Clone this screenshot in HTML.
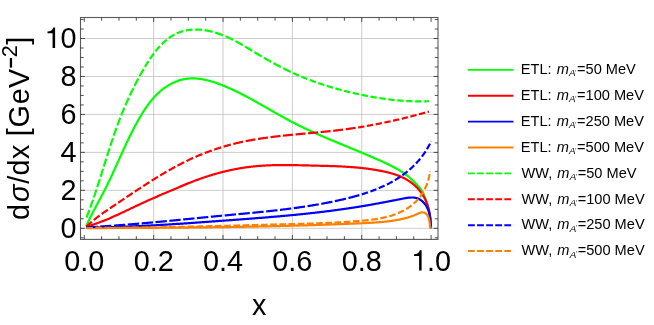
<!DOCTYPE html>
<html><head><meta charset="utf-8"><title>plot</title>
<style>html,body{margin:0;padding:0;background:#fff;}body{width:654px;height:325px;overflow:hidden;font-family:"Liberation Sans",sans-serif;}</style>
</head><body>
<svg width="654" height="325" viewBox="0 0 654 325" style="display:block">
<rect width="654" height="325" fill="#fff"/>
<defs><filter id="gs" x="0" y="0" width="100%" height="100%" filterUnits="userSpaceOnUse" color-interpolation-filters="sRGB"><feColorMatrix type="saturate" values="0"/></filter></defs>
<path d="M153.66,17.5 V239.4 M223.02,17.5 V239.4 M292.38,17.5 V239.4 M361.74,17.5 V239.4 M80.5,228.30 H438.0 M80.5,190.34 H438.0 M80.5,152.38 H438.0 M80.5,114.42 H438.0 M80.5,76.46 H438.0 M80.5,38.50 H438.0" stroke="#bcbcbc" stroke-width="0.75" fill="none"/>
<clipPath id="c"><rect x="80.5" y="17.5" width="357.5" height="221.9"/></clipPath>
<g clip-path="url(#c)" fill="none" stroke-width="2.2" stroke-linejoin="round">
<path d="M86.21,226.21 L86.55,225.46 L86.88,224.71 L87.22,223.97 L87.56,223.22 L87.90,222.48 L88.25,221.74 L88.60,221.00 L88.95,220.27 L89.30,219.53 L89.66,218.80 L90.02,218.07 L90.38,217.34 L90.74,216.61 L91.11,215.88 L91.47,215.16 L91.84,214.43 L92.21,213.71 L92.58,212.99 L92.96,212.27 L93.33,211.55 L93.71,210.83 L94.08,210.11 L94.46,209.39 L94.84,208.68 L95.22,207.96 L95.60,207.25 L95.98,206.53 L96.36,205.82 L96.75,205.10 L97.13,204.39 L97.51,203.68 L97.90,202.96 L98.28,202.25 L98.66,201.54 L99.05,200.83 L99.43,200.11 L99.81,199.40 L100.20,198.69 L100.58,197.97 L100.96,197.26 L101.34,196.54 L101.72,195.83 L102.10,195.11 L102.48,194.40 L102.85,193.68 L103.23,192.96 L103.60,192.24 L103.98,191.53 L104.35,190.81 L104.72,190.08 L105.08,189.36 L105.45,188.64 L105.82,187.91 L106.18,187.19 L106.54,186.46 L106.90,185.73 L107.26,185.01 L107.62,184.28 L107.97,183.55 L108.33,182.82 L108.68,182.08 L109.03,181.35 L109.38,180.62 L109.73,179.88 L110.08,179.15 L110.43,178.41 L110.78,177.68 L111.12,176.94 L111.47,176.20 L111.81,175.47 L112.15,174.73 L112.50,173.99 L112.84,173.25 L113.18,172.51 L113.52,171.77 L113.86,171.03 L114.20,170.29 L114.54,169.54 L114.87,168.80 L115.21,168.06 L115.55,167.32 L115.88,166.57 L116.22,165.83 L116.56,165.09 L116.89,164.34 L117.23,163.60 L117.56,162.86 L117.90,162.11 L118.23,161.37 L118.57,160.62 L118.90,159.88 L119.24,159.14 L119.57,158.39 L119.91,157.65 L120.24,156.90 L120.58,156.16 L120.92,155.42 L121.25,154.67 L121.59,153.93 L121.93,153.19 L122.26,152.44 L122.60,151.70 L122.94,150.96 L123.28,150.22 L123.62,149.48 L123.96,148.73 L124.30,147.99 L124.64,147.25 L124.98,146.51 L125.33,145.77 L125.67,145.04 L126.02,144.30 L126.36,143.56 L126.71,142.82 L127.06,142.09 L127.41,141.35 L127.76,140.61 L128.11,139.88 L128.46,139.15 L128.81,138.41 L129.17,137.68 L129.52,136.95 L129.88,136.22 L130.24,135.49 L130.60,134.76 L130.96,134.03 L131.33,133.31 L131.69,132.58 L132.06,131.85 L132.43,131.13 L132.80,130.41 L133.17,129.68 L133.54,128.96 L133.92,128.24 L134.30,127.53 L134.67,126.81 L135.06,126.09 L135.44,125.38 L135.82,124.66 L136.21,123.95 L136.60,123.24 L136.99,122.53 L137.39,121.82 L137.78,121.12 L138.18,120.41 L138.58,119.71 L138.99,119.00 L139.39,118.30 L139.80,117.60 L140.21,116.90 L140.62,116.21 L141.04,115.51 L141.46,114.82 L141.88,114.13 L142.30,113.44 L142.73,112.75 L143.16,112.07 L143.59,111.38 L144.03,110.70 L144.47,110.02 L144.91,109.35 L145.36,108.67 L145.81,108.01 L146.27,107.34 L146.73,106.67 L147.19,106.01 L147.66,105.36 L148.14,104.70 L148.61,104.06 L149.10,103.41 L149.59,102.77 L150.08,102.13 L150.58,101.50 L151.09,100.87 L151.60,100.25 L152.11,99.63 L152.63,99.02 L153.16,98.41 L153.70,97.80 L154.24,97.20 L154.78,96.61 L155.34,96.02 L155.90,95.44 L156.47,94.87 L157.04,94.30 L157.62,93.73 L158.21,93.18 L158.81,92.62 L159.41,92.08 L160.03,91.54 L160.65,91.01 L161.27,90.49 L161.91,89.97 L162.55,89.46 L163.21,88.96 L163.87,88.47 L164.54,87.98 L165.22,87.50 L165.90,87.03 L166.60,86.56 L167.31,86.11 L168.02,85.66 L168.74,85.23 L169.47,84.80 L170.21,84.39 L170.95,83.98 L171.70,83.59 L172.45,83.21 L173.21,82.84 L173.98,82.48 L174.75,82.13 L175.52,81.80 L176.29,81.49 L177.07,81.18 L177.85,80.90 L178.64,80.62 L179.42,80.37 L180.21,80.13 L181.00,79.90 L181.79,79.70 L182.57,79.51 L183.36,79.33 L184.15,79.17 L184.95,79.03 L185.74,78.90 L186.53,78.79 L187.32,78.69 L188.11,78.60 L188.91,78.53 L189.70,78.48 L190.50,78.43 L191.29,78.40 L192.08,78.39 L192.88,78.38 L193.67,78.39 L194.47,78.41 L195.26,78.45 L196.06,78.49 L196.85,78.55 L197.64,78.62 L198.44,78.70 L199.23,78.79 L200.02,78.89 L200.82,79.01 L201.61,79.13 L202.40,79.26 L203.19,79.40 L203.98,79.56 L204.77,79.72 L205.56,79.89 L206.35,80.06 L207.14,80.25 L207.93,80.45 L208.71,80.65 L209.50,80.86 L210.28,81.08 L211.07,81.30 L211.85,81.53 L212.63,81.77 L213.41,82.02 L214.19,82.27 L214.97,82.53 L215.75,82.79 L216.52,83.06 L217.29,83.33 L218.07,83.61 L218.84,83.89 L219.61,84.18 L220.38,84.47 L221.14,84.77 L221.91,85.07 L222.67,85.37 L223.43,85.68 L224.19,85.98 L224.95,86.30 L225.70,86.61 L226.46,86.93 L227.21,87.25 L227.96,87.57 L228.71,87.90 L229.46,88.23 L230.20,88.56 L230.95,88.90 L231.69,89.24 L232.43,89.58 L233.17,89.92 L233.91,90.26 L234.65,90.61 L235.38,90.96 L236.12,91.31 L236.85,91.67 L237.58,92.02 L238.31,92.38 L239.04,92.74 L239.77,93.10 L240.50,93.47 L241.23,93.83 L241.95,94.20 L242.68,94.57 L243.40,94.95 L244.12,95.32 L244.84,95.69 L245.56,96.07 L246.28,96.45 L247.00,96.83 L247.72,97.21 L248.43,97.60 L249.15,97.98 L249.86,98.37 L250.58,98.75 L251.29,99.14 L252.00,99.53 L252.72,99.92 L253.43,100.32 L254.14,100.71 L254.85,101.10 L255.56,101.50 L256.27,101.89 L256.98,102.29 L257.68,102.69 L258.39,103.09 L259.10,103.49 L259.81,103.89 L260.51,104.29 L261.22,104.69 L261.93,105.09 L262.63,105.49 L263.34,105.89 L264.04,106.29 L264.75,106.70 L265.45,107.10 L266.16,107.50 L266.86,107.91 L267.56,108.31 L268.27,108.71 L268.97,109.12 L269.68,109.52 L270.38,109.92 L271.09,110.33 L271.79,110.73 L272.49,111.13 L273.20,111.54 L273.90,111.94 L274.61,112.34 L275.31,112.74 L276.02,113.14 L276.73,113.54 L277.43,113.94 L278.14,114.34 L278.85,114.74 L279.55,115.14 L280.26,115.53 L280.97,115.93 L281.68,116.32 L282.39,116.72 L283.10,117.11 L283.81,117.50 L284.52,117.89 L285.23,118.28 L285.94,118.67 L286.65,119.06 L287.37,119.45 L288.08,119.83 L288.79,120.21 L289.51,120.59 L290.23,120.97 L290.94,121.35 L291.66,121.73 L292.38,122.11 L293.10,122.48 L293.82,122.85 L294.54,123.22 L295.26,123.59 L295.99,123.96 L296.71,124.32 L297.44,124.69 L298.16,125.05 L298.89,125.41 L299.62,125.77 L300.35,126.13 L301.08,126.48 L301.81,126.84 L302.54,127.19 L303.27,127.54 L304.00,127.90 L304.73,128.24 L305.47,128.59 L306.20,128.94 L306.94,129.28 L307.67,129.63 L308.41,129.97 L309.15,130.31 L309.88,130.65 L310.62,130.99 L311.36,131.33 L312.10,131.67 L312.84,132.00 L313.58,132.34 L314.32,132.67 L315.06,133.01 L315.81,133.34 L316.55,133.67 L317.29,134.00 L318.04,134.33 L318.78,134.66 L319.52,134.98 L320.27,135.31 L321.02,135.64 L321.76,135.96 L322.51,136.28 L323.25,136.61 L324.00,136.93 L324.75,137.25 L325.50,137.57 L326.25,137.89 L326.99,138.21 L327.74,138.53 L328.49,138.85 L329.24,139.17 L329.99,139.48 L330.74,139.80 L331.49,140.12 L332.24,140.43 L333.00,140.75 L333.75,141.06 L334.50,141.37 L335.25,141.69 L336.00,142.00 L336.75,142.31 L337.51,142.63 L338.26,142.94 L339.01,143.25 L339.76,143.56 L340.52,143.87 L341.27,144.19 L342.02,144.50 L342.78,144.81 L343.53,145.12 L344.28,145.43 L345.04,145.74 L345.79,146.05 L346.54,146.36 L347.30,146.67 L348.05,146.98 L348.80,147.29 L349.56,147.60 L350.31,147.91 L351.06,148.22 L351.81,148.53 L352.57,148.84 L353.32,149.15 L354.07,149.46 L354.83,149.77 L355.58,150.08 L356.33,150.40 L357.08,150.71 L357.83,151.02 L358.59,151.33 L359.34,151.64 L360.09,151.96 L360.84,152.27 L361.59,152.58 L362.34,152.90 L363.09,153.21 L363.84,153.53 L364.59,153.84 L365.34,154.16 L366.09,154.47 L366.84,154.79 L367.59,155.11 L368.34,155.43 L369.09,155.75 L369.83,156.06 L370.58,156.38 L371.33,156.71 L372.07,157.03 L372.82,157.35 L373.56,157.67 L374.31,158.00 L375.05,158.32 L375.80,158.64 L376.54,158.97 L377.28,159.30 L378.03,159.63 L378.77,159.95 L379.51,160.28 L380.25,160.61 L380.99,160.95 L381.73,161.28 L382.47,161.61 L383.21,161.95 L383.94,162.29 L384.68,162.63 L385.41,162.97 L386.15,163.31 L386.88,163.66 L387.61,164.00 L388.34,164.36 L389.07,164.71 L389.79,165.07 L390.51,165.43 L391.23,165.79 L391.95,166.16 L392.67,166.53 L393.38,166.90 L394.10,167.28 L394.81,167.67 L395.51,168.06 L396.22,168.45 L396.92,168.84 L397.61,169.25 L398.31,169.65 L399.00,170.07 L399.69,170.48 L400.37,170.91 L401.06,171.34 L401.73,171.77 L402.41,172.21 L403.08,172.66 L403.74,173.12 L404.41,173.58 L405.06,174.04 L405.72,174.52 L406.37,175.00 L407.01,175.49 L407.65,175.99 L408.29,176.49 L408.92,177.00 L409.55,177.52 L410.17,178.05 L410.78,178.59 L411.40,179.13 L412.00,179.69 L412.60,180.25 L413.20,180.82 L413.79,181.40 L414.37,181.99 L414.95,182.58 L415.52,183.18 L416.08,183.78 L416.64,184.39 L417.20,185.01 L417.74,185.62 L418.28,186.24 L418.81,186.87 L419.34,187.50 L419.85,188.13 L420.34,188.77 L420.83,189.42 L421.29,190.08 L421.74,190.74 L422.17,191.42 L422.58,192.11 L422.97,192.81 L423.33,193.52 L423.67,194.25 L424.00,194.98 L424.31,195.73 L424.61,196.48 L424.89,197.23 L425.17,197.99 L425.44,198.76 L425.71,199.52 L425.98,200.29 L426.23,201.06 L426.49,201.84 L426.74,202.61 L426.98,203.39 L427.22,204.17 L427.45,204.95 L427.68,205.73 L427.90,206.52 L428.12,207.31 L428.32,208.10 L428.53,208.89 L428.72,209.68 L428.91,210.47 L429.09,211.27 L429.27,212.06 L429.44,212.86 L429.60,213.66 L429.75,214.46 L429.89,215.26 L430.03,216.06 L430.16,216.87 L430.28,217.67 L430.39,218.48 L430.49,219.28 L430.59,220.09 L430.67,220.90 L430.75,221.71 L430.82,222.52 L430.87,223.33 L430.92,224.14 L430.96,224.95 L430.98,225.76 L431.00,226.57 L431.01,227.38 L431.00,228.20" stroke="#00ff00"/>
<path d="M86.09,226.71 L86.72,226.54 L87.35,226.36 L87.98,226.18 L88.61,226.00 L89.24,225.81 L89.87,225.63 L90.49,225.43 L91.11,225.24 L91.74,225.04 L92.36,224.85 L92.98,224.64 L93.60,224.44 L94.22,224.23 L94.84,224.03 L95.46,223.81 L96.07,223.60 L96.69,223.39 L97.30,223.17 L97.91,222.95 L98.53,222.73 L99.14,222.50 L99.75,222.27 L100.36,222.05 L100.97,221.82 L101.58,221.58 L102.18,221.35 L102.79,221.11 L103.40,220.87 L104.00,220.64 L104.61,220.39 L105.21,220.15 L105.81,219.90 L106.42,219.66 L107.02,219.41 L107.62,219.16 L108.22,218.91 L108.82,218.66 L109.42,218.40 L110.02,218.15 L110.62,217.89 L111.21,217.63 L111.81,217.37 L112.41,217.11 L113.00,216.85 L113.60,216.58 L114.19,216.32 L114.79,216.05 L115.38,215.78 L115.98,215.52 L116.57,215.25 L117.16,214.98 L117.76,214.71 L118.35,214.44 L118.94,214.16 L119.53,213.89 L120.12,213.62 L120.72,213.34 L121.31,213.07 L121.90,212.79 L122.49,212.51 L123.08,212.24 L123.67,211.96 L124.26,211.68 L124.85,211.40 L125.44,211.12 L126.03,210.84 L126.62,210.56 L127.21,210.28 L127.79,210.00 L128.38,209.72 L128.97,209.44 L129.56,209.16 L130.15,208.88 L130.74,208.60 L131.33,208.32 L131.92,208.03 L132.51,207.75 L133.10,207.47 L133.69,207.19 L134.28,206.91 L134.87,206.63 L135.45,206.35 L136.04,206.07 L136.63,205.79 L137.23,205.51 L137.82,205.23 L138.41,204.95 L139.00,204.68 L139.59,204.40 L140.18,204.12 L140.77,203.85 L141.36,203.57 L141.96,203.30 L142.55,203.02 L143.14,202.75 L143.74,202.48 L144.33,202.20 L144.92,201.93 L145.52,201.66 L146.11,201.39 L146.71,201.12 L147.30,200.85 L147.90,200.59 L148.49,200.32 L149.09,200.05 L149.69,199.79 L150.28,199.52 L150.88,199.26 L151.48,198.99 L152.08,198.73 L152.67,198.47 L153.27,198.20 L153.87,197.94 L154.47,197.68 L155.07,197.42 L155.67,197.16 L156.26,196.90 L156.86,196.64 L157.46,196.38 L158.06,196.12 L158.66,195.86 L159.26,195.60 L159.86,195.34 L160.46,195.09 L161.06,194.83 L161.66,194.57 L162.26,194.31 L162.86,194.06 L163.46,193.80 L164.06,193.54 L164.66,193.29 L165.26,193.03 L165.86,192.77 L166.46,192.52 L167.06,192.26 L167.66,192.01 L168.26,191.75 L168.87,191.49 L169.47,191.24 L170.07,190.98 L170.67,190.73 L171.27,190.47 L171.87,190.22 L172.47,189.96 L173.07,189.70 L173.67,189.45 L174.27,189.19 L174.87,188.93 L175.47,188.68 L176.06,188.42 L176.66,188.17 L177.26,187.91 L177.86,187.65 L178.46,187.40 L179.06,187.14 L179.66,186.89 L180.26,186.63 L180.86,186.38 L181.47,186.13 L182.07,185.87 L182.67,185.62 L183.27,185.37 L183.87,185.12 L184.47,184.87 L185.07,184.62 L185.68,184.37 L186.28,184.12 L186.88,183.88 L187.49,183.63 L188.09,183.39 L188.70,183.14 L189.30,182.90 L189.91,182.66 L190.52,182.42 L191.12,182.18 L191.73,181.94 L192.34,181.70 L192.95,181.47 L193.56,181.24 L194.17,181.00 L194.78,180.77 L195.39,180.54 L196.00,180.31 L196.61,180.09 L197.23,179.86 L197.84,179.64 L198.45,179.42 L199.07,179.19 L199.68,178.98 L200.30,178.76 L200.92,178.54 L201.53,178.32 L202.15,178.11 L202.77,177.90 L203.39,177.69 L204.01,177.48 L204.63,177.27 L205.25,177.06 L205.87,176.86 L206.49,176.66 L207.11,176.46 L207.73,176.26 L208.36,176.06 L208.98,175.86 L209.61,175.66 L210.23,175.47 L210.85,175.28 L211.48,175.09 L212.11,174.90 L212.73,174.71 L213.36,174.53 L213.99,174.34 L214.61,174.16 L215.24,173.98 L215.87,173.80 L216.50,173.62 L217.13,173.45 L217.76,173.27 L218.39,173.10 L219.02,172.93 L219.65,172.76 L220.29,172.59 L220.92,172.43 L221.55,172.26 L222.18,172.10 L222.82,171.94 L223.45,171.78 L224.09,171.62 L224.72,171.47 L225.36,171.31 L225.99,171.16 L226.63,171.01 L227.26,170.86 L227.90,170.72 L228.54,170.57 L229.17,170.43 L229.81,170.29 L230.45,170.15 L231.09,170.01 L231.73,169.88 L232.37,169.75 L233.01,169.61 L233.65,169.48 L234.29,169.36 L234.93,169.23 L235.57,169.11 L236.21,168.98 L236.85,168.86 L237.49,168.75 L238.13,168.63 L238.78,168.51 L239.42,168.40 L240.06,168.29 L240.70,168.18 L241.35,168.08 L241.99,167.97 L242.64,167.87 L243.28,167.77 L243.92,167.67 L244.57,167.57 L245.21,167.48 L245.86,167.39 L246.51,167.29 L247.15,167.21 L247.80,167.12 L248.44,167.04 L249.09,166.95 L249.74,166.87 L250.38,166.79 L251.03,166.72 L251.68,166.64 L252.33,166.57 L252.97,166.50 L253.62,166.43 L254.27,166.37 L254.92,166.30 L255.57,166.24 L256.22,166.18 L256.86,166.12 L257.51,166.07 L258.16,166.01 L258.81,165.96 L259.46,165.91 L260.11,165.86 L260.76,165.81 L261.41,165.76 L262.06,165.72 L262.71,165.68 L263.36,165.63 L264.01,165.59 L264.66,165.56 L265.32,165.52 L265.97,165.49 L266.62,165.45 L267.27,165.42 L267.92,165.39 L268.57,165.36 L269.22,165.33 L269.88,165.31 L270.53,165.28 L271.18,165.26 L271.83,165.24 L272.49,165.22 L273.14,165.20 L273.79,165.18 L274.44,165.16 L275.10,165.15 L275.75,165.13 L276.40,165.12 L277.06,165.11 L277.71,165.10 L278.36,165.09 L279.02,165.08 L279.67,165.07 L280.32,165.07 L280.98,165.06 L281.63,165.06 L282.28,165.05 L282.94,165.05 L283.59,165.05 L284.24,165.05 L284.90,165.05 L285.55,165.05 L286.21,165.05 L286.86,165.05 L287.52,165.06 L288.17,165.06 L288.82,165.07 L289.48,165.07 L290.13,165.08 L290.79,165.09 L291.44,165.09 L292.09,165.10 L292.75,165.11 L293.40,165.12 L294.06,165.13 L294.71,165.14 L295.37,165.15 L296.02,165.17 L296.68,165.18 L297.33,165.19 L297.98,165.20 L298.64,165.22 L299.29,165.23 L299.95,165.25 L300.60,165.26 L301.26,165.28 L301.91,165.29 L302.56,165.31 L303.22,165.32 L303.87,165.34 L304.53,165.36 L305.18,165.37 L305.83,165.39 L306.49,165.41 L307.14,165.42 L307.80,165.44 L308.45,165.46 L309.10,165.47 L309.76,165.49 L310.41,165.51 L311.06,165.53 L311.72,165.54 L312.37,165.56 L313.02,165.58 L313.68,165.59 L314.33,165.61 L314.98,165.63 L315.64,165.64 L316.29,165.66 L316.94,165.68 L317.59,165.69 L318.25,165.71 L318.90,165.73 L319.55,165.74 L320.20,165.76 L320.86,165.78 L321.51,165.79 L322.16,165.81 L322.81,165.83 L323.46,165.84 L324.12,165.86 L324.77,165.88 L325.42,165.90 L326.07,165.91 L326.72,165.93 L327.37,165.95 L328.02,165.97 L328.68,165.99 L329.33,166.01 L329.98,166.03 L330.63,166.05 L331.28,166.07 L331.93,166.09 L332.58,166.12 L333.23,166.14 L333.88,166.16 L334.53,166.19 L335.18,166.21 L335.84,166.23 L336.49,166.26 L337.14,166.29 L337.79,166.31 L338.44,166.34 L339.09,166.37 L339.74,166.40 L340.39,166.43 L341.04,166.46 L341.69,166.49 L342.34,166.52 L342.99,166.56 L343.64,166.59 L344.29,166.63 L344.94,166.66 L345.59,166.70 L346.23,166.74 L346.88,166.78 L347.53,166.82 L348.18,166.86 L348.83,166.90 L349.48,166.94 L350.13,166.99 L350.78,167.03 L351.43,167.08 L352.08,167.13 L352.73,167.18 L353.38,167.23 L354.02,167.28 L354.67,167.34 L355.32,167.39 L355.97,167.45 L356.62,167.50 L357.27,167.56 L357.92,167.62 L358.57,167.68 L359.21,167.75 L359.86,167.81 L360.51,167.88 L361.16,167.95 L361.81,168.01 L362.46,168.09 L363.10,168.16 L363.75,168.23 L364.40,168.31 L365.05,168.38 L365.70,168.46 L366.35,168.54 L366.99,168.63 L367.64,168.71 L368.29,168.80 L368.94,168.89 L369.59,168.98 L370.23,169.07 L370.88,169.16 L371.53,169.26 L372.18,169.35 L372.82,169.45 L373.47,169.56 L374.12,169.66 L374.77,169.76 L375.42,169.87 L376.06,169.98 L376.71,170.09 L377.36,170.21 L378.01,170.32 L378.65,170.44 L379.30,170.56 L379.95,170.68 L380.60,170.81 L381.24,170.94 L381.89,171.07 L382.54,171.20 L383.18,171.33 L383.83,171.47 L384.48,171.61 L385.12,171.76 L385.77,171.90 L386.41,172.05 L387.05,172.21 L387.69,172.36 L388.33,172.52 L388.97,172.69 L389.61,172.85 L390.24,173.03 L390.88,173.20 L391.51,173.38 L392.14,173.56 L392.77,173.75 L393.40,173.94 L394.02,174.14 L394.65,174.34 L395.27,174.55 L395.88,174.76 L396.50,174.97 L397.11,175.19 L397.73,175.42 L398.33,175.65 L398.94,175.89 L399.54,176.13 L400.14,176.38 L400.74,176.63 L401.33,176.89 L401.92,177.15 L402.51,177.42 L403.09,177.70 L403.67,177.98 L404.25,178.27 L404.82,178.57 L405.39,178.87 L405.95,179.18 L406.51,179.49 L407.07,179.81 L407.62,180.14 L408.17,180.48 L408.71,180.82 L409.25,181.17 L409.79,181.53 L410.32,181.90 L410.84,182.27 L411.36,182.65 L411.87,183.04 L412.38,183.43 L412.89,183.84 L413.39,184.25 L413.88,184.67 L414.37,185.09 L414.85,185.53 L415.33,185.97 L415.80,186.42 L416.27,186.87 L416.72,187.34 L417.18,187.81 L417.62,188.28 L418.06,188.76 L418.50,189.25 L418.92,189.75 L419.34,190.25 L419.75,190.76 L420.16,191.27 L420.56,191.79 L420.95,192.31 L421.33,192.84 L421.71,193.38 L422.08,193.92 L422.44,194.46 L422.79,195.01 L423.14,195.57 L423.47,196.13 L423.80,196.69 L424.12,197.26 L424.43,197.84 L424.73,198.42 L425.03,199.00 L425.31,199.58 L425.59,200.17 L425.86,200.77 L426.12,201.37 L426.37,201.97 L426.61,202.57 L426.85,203.18 L427.07,203.79 L427.29,204.40 L427.51,205.02 L427.71,205.64 L427.91,206.26 L428.09,206.89 L428.28,207.52 L428.45,208.15 L428.62,208.78 L428.78,209.41 L428.93,210.05 L429.08,210.69 L429.22,211.33 L429.36,211.97 L429.48,212.61 L429.61,213.26 L429.72,213.90 L429.83,214.55 L429.94,215.20 L430.03,215.85 L430.13,216.50 L430.21,217.15 L430.30,217.80 L430.37,218.45 L430.45,219.10 L430.51,219.75 L430.57,220.41 L430.63,221.06 L430.68,221.71 L430.73,222.36 L430.78,223.01 L430.81,223.67 L430.85,224.32 L430.88,224.97 L430.91,225.61 L430.93,226.26 L430.95,226.91 L430.97,227.55 L430.98,228.20" stroke="#ff0000"/>
<path d="M86.17,227.48 L86.79,227.48 L87.40,227.48 L88.02,227.48 L88.64,227.47 L89.26,227.47 L89.87,227.46 L90.49,227.46 L91.11,227.45 L91.72,227.45 L92.34,227.44 L92.96,227.44 L93.57,227.43 L94.19,227.42 L94.81,227.42 L95.42,227.41 L96.04,227.40 L96.66,227.39 L97.27,227.39 L97.89,227.38 L98.51,227.37 L99.12,227.36 L99.74,227.35 L100.35,227.34 L100.97,227.33 L101.59,227.32 L102.20,227.31 L102.82,227.29 L103.43,227.28 L104.05,227.27 L104.67,227.26 L105.28,227.24 L105.90,227.23 L106.51,227.22 L107.13,227.20 L107.74,227.19 L108.36,227.17 L108.97,227.16 L109.59,227.14 L110.20,227.13 L110.82,227.11 L111.43,227.10 L112.05,227.08 L112.66,227.06 L113.28,227.05 L113.89,227.03 L114.51,227.01 L115.12,226.99 L115.74,226.98 L116.35,226.96 L116.97,226.94 L117.58,226.92 L118.19,226.90 L118.81,226.88 L119.42,226.86 L120.04,226.84 L120.65,226.82 L121.27,226.80 L121.88,226.78 L122.49,226.76 L123.11,226.74 L123.72,226.71 L124.33,226.69 L124.95,226.67 L125.56,226.65 L126.18,226.62 L126.79,226.60 L127.40,226.58 L128.02,226.55 L128.63,226.53 L129.24,226.50 L129.86,226.48 L130.47,226.45 L131.08,226.43 L131.70,226.40 L132.31,226.38 L132.92,226.35 L133.54,226.33 L134.15,226.30 L134.76,226.27 L135.38,226.25 L135.99,226.22 L136.60,226.19 L137.22,226.16 L137.83,226.14 L138.44,226.11 L139.06,226.08 L139.67,226.05 L140.28,226.02 L140.89,225.99 L141.51,225.96 L142.12,225.94 L142.73,225.91 L143.34,225.88 L143.96,225.85 L144.57,225.82 L145.18,225.78 L145.80,225.75 L146.41,225.72 L147.02,225.69 L147.63,225.66 L148.25,225.63 L148.86,225.60 L149.47,225.56 L150.08,225.53 L150.70,225.50 L151.31,225.47 L151.92,225.43 L152.53,225.40 L153.14,225.37 L153.76,225.33 L154.37,225.30 L154.98,225.27 L155.59,225.23 L156.21,225.20 L156.82,225.16 L157.43,225.13 L158.04,225.10 L158.65,225.06 L159.27,225.03 L159.88,224.99 L160.49,224.95 L161.10,224.92 L161.71,224.88 L162.33,224.85 L162.94,224.81 L163.55,224.77 L164.16,224.74 L164.77,224.70 L165.39,224.66 L166.00,224.63 L166.61,224.59 L167.22,224.55 L167.83,224.52 L168.45,224.48 L169.06,224.44 L169.67,224.40 L170.28,224.36 L170.89,224.33 L171.50,224.29 L172.12,224.25 L172.73,224.21 L173.34,224.17 L173.95,224.13 L174.56,224.09 L175.18,224.05 L175.79,224.01 L176.40,223.97 L177.01,223.94 L177.62,223.90 L178.24,223.86 L178.85,223.82 L179.46,223.78 L180.07,223.73 L180.68,223.69 L181.29,223.65 L181.91,223.61 L182.52,223.57 L183.13,223.53 L183.74,223.49 L184.35,223.45 L184.97,223.41 L185.58,223.37 L186.19,223.33 L186.80,223.28 L187.41,223.24 L188.02,223.20 L188.64,223.16 L189.25,223.12 L189.86,223.07 L190.47,223.03 L191.08,222.99 L191.70,222.95 L192.31,222.91 L192.92,222.86 L193.53,222.82 L194.14,222.78 L194.76,222.73 L195.37,222.69 L195.98,222.65 L196.59,222.61 L197.20,222.56 L197.82,222.52 L198.43,222.48 L199.04,222.43 L199.65,222.39 L200.26,222.35 L200.88,222.30 L201.49,222.26 L202.10,222.22 L202.71,222.17 L203.32,222.13 L203.94,222.08 L204.55,222.04 L205.16,222.00 L205.77,221.95 L206.39,221.91 L207.00,221.86 L207.61,221.82 L208.22,221.78 L208.84,221.73 L209.45,221.69 L210.06,221.64 L210.67,221.60 L211.29,221.55 L211.90,221.51 L212.51,221.46 L213.12,221.42 L213.74,221.38 L214.35,221.33 L214.96,221.29 L215.57,221.24 L216.19,221.20 L216.80,221.15 L217.41,221.11 L218.02,221.06 L218.64,221.02 L219.25,220.97 L219.86,220.93 L220.48,220.88 L221.09,220.84 L221.70,220.79 L222.32,220.75 L222.93,220.70 L223.54,220.66 L224.15,220.61 L224.77,220.57 L225.38,220.52 L225.99,220.48 L226.61,220.43 L227.22,220.39 L227.83,220.34 L228.45,220.30 L229.06,220.25 L229.67,220.21 L230.29,220.16 L230.90,220.12 L231.52,220.07 L232.13,220.03 L232.74,219.98 L233.36,219.94 L233.97,219.89 L234.58,219.85 L235.20,219.80 L235.81,219.76 L236.42,219.71 L237.04,219.67 L237.65,219.62 L238.27,219.57 L238.88,219.53 L239.49,219.48 L240.11,219.44 L240.72,219.39 L241.33,219.35 L241.95,219.30 L242.56,219.25 L243.18,219.21 L243.79,219.16 L244.40,219.11 L245.02,219.07 L245.63,219.02 L246.25,218.98 L246.86,218.93 L247.47,218.88 L248.09,218.84 L248.70,218.79 L249.32,218.74 L249.93,218.69 L250.54,218.65 L251.16,218.60 L251.77,218.55 L252.39,218.50 L253.00,218.46 L253.61,218.41 L254.23,218.36 L254.84,218.31 L255.46,218.27 L256.07,218.22 L256.68,218.17 L257.30,218.12 L257.91,218.07 L258.53,218.02 L259.14,217.97 L259.75,217.93 L260.37,217.88 L260.98,217.83 L261.59,217.78 L262.21,217.73 L262.82,217.68 L263.44,217.63 L264.05,217.58 L264.66,217.53 L265.28,217.48 L265.89,217.43 L266.51,217.38 L267.12,217.33 L267.73,217.28 L268.35,217.23 L268.96,217.17 L269.57,217.12 L270.19,217.07 L270.80,217.02 L271.41,216.97 L272.03,216.92 L272.64,216.86 L273.25,216.81 L273.87,216.76 L274.48,216.71 L275.10,216.65 L275.71,216.60 L276.32,216.55 L276.94,216.49 L277.55,216.44 L278.16,216.39 L278.77,216.33 L279.39,216.28 L280.00,216.22 L280.61,216.17 L281.23,216.12 L281.84,216.06 L282.45,216.01 L283.07,215.95 L283.68,215.89 L284.29,215.84 L284.90,215.78 L285.52,215.73 L286.13,215.67 L286.74,215.61 L287.36,215.56 L287.97,215.50 L288.58,215.44 L289.19,215.38 L289.81,215.33 L290.42,215.27 L291.03,215.21 L291.64,215.15 L292.26,215.09 L292.87,215.03 L293.48,214.98 L294.09,214.92 L294.70,214.86 L295.32,214.80 L295.93,214.74 L296.54,214.68 L297.15,214.61 L297.76,214.55 L298.37,214.49 L298.99,214.43 L299.60,214.37 L300.21,214.31 L300.82,214.25 L301.43,214.18 L302.04,214.12 L302.65,214.06 L303.27,213.99 L303.88,213.93 L304.49,213.87 L305.10,213.80 L305.71,213.74 L306.32,213.67 L306.93,213.61 L307.54,213.54 L308.15,213.48 L308.76,213.41 L309.37,213.34 L309.98,213.28 L310.59,213.21 L311.20,213.14 L311.82,213.08 L312.43,213.01 L313.04,212.94 L313.65,212.87 L314.26,212.80 L314.86,212.73 L315.47,212.67 L316.08,212.60 L316.69,212.53 L317.30,212.46 L317.91,212.38 L318.52,212.31 L319.13,212.24 L319.74,212.17 L320.35,212.10 L320.96,212.03 L321.57,211.95 L322.18,211.88 L322.78,211.81 L323.39,211.73 L324.00,211.66 L324.61,211.59 L325.22,211.51 L325.83,211.44 L326.43,211.36 L327.04,211.28 L327.65,211.21 L328.26,211.13 L328.87,211.06 L329.47,210.98 L330.08,210.90 L330.69,210.82 L331.30,210.74 L331.90,210.67 L332.51,210.59 L333.12,210.51 L333.72,210.43 L334.33,210.35 L334.94,210.27 L335.54,210.19 L336.15,210.10 L336.76,210.02 L337.36,209.94 L337.97,209.86 L338.58,209.78 L339.18,209.69 L339.79,209.61 L340.39,209.52 L341.00,209.44 L341.60,209.35 L342.21,209.27 L342.81,209.18 L343.42,209.10 L344.02,209.01 L344.63,208.92 L345.23,208.84 L345.84,208.75 L346.44,208.66 L347.05,208.57 L347.65,208.48 L348.26,208.39 L348.86,208.30 L349.46,208.21 L350.07,208.12 L350.67,208.03 L351.27,207.94 L351.88,207.85 L352.48,207.75 L353.08,207.66 L353.69,207.57 L354.29,207.47 L354.89,207.38 L355.50,207.28 L356.10,207.19 L356.70,207.09 L357.30,207.00 L357.90,206.90 L358.51,206.80 L359.11,206.71 L359.71,206.61 L360.31,206.51 L360.91,206.41 L361.51,206.31 L362.12,206.21 L362.72,206.11 L363.32,206.01 L363.92,205.91 L364.52,205.81 L365.12,205.70 L365.72,205.60 L366.32,205.50 L366.92,205.39 L367.52,205.29 L368.12,205.19 L368.72,205.08 L369.32,204.98 L369.92,204.87 L370.52,204.76 L371.12,204.66 L371.73,204.55 L372.33,204.44 L372.93,204.33 L373.53,204.23 L374.13,204.12 L374.73,204.01 L375.33,203.90 L375.94,203.79 L376.54,203.68 L377.14,203.57 L377.74,203.46 L378.35,203.35 L378.95,203.23 L379.55,203.12 L380.16,203.01 L380.76,202.90 L381.37,202.78 L381.97,202.67 L382.58,202.56 L383.18,202.44 L383.79,202.33 L384.40,202.21 L385.00,202.10 L385.61,201.98 L386.22,201.87 L386.83,201.75 L387.44,201.63 L388.05,201.52 L388.66,201.40 L389.27,201.28 L389.88,201.17 L390.49,201.05 L391.10,200.93 L391.72,200.81 L392.33,200.69 L392.94,200.57 L393.56,200.45 L394.17,200.33 L394.79,200.21 L395.41,200.09 L396.02,199.97 L396.64,199.85 L397.26,199.73 L397.88,199.61 L398.50,199.49 L399.12,199.37 L399.75,199.25 L400.37,199.12 L400.99,199.00 L401.62,198.88 L402.24,198.76 L402.87,198.63 L403.50,198.51 L404.12,198.40 L404.75,198.28 L405.38,198.17 L406.00,198.06 L406.62,197.96 L407.25,197.87 L407.87,197.79 L408.48,197.71 L409.10,197.65 L409.71,197.59 L410.32,197.55 L410.93,197.52 L411.53,197.50 L412.13,197.50 L412.72,197.51 L413.31,197.54 L413.90,197.59 L414.48,197.66 L415.05,197.74 L415.62,197.85 L416.18,197.97 L416.74,198.12 L417.28,198.29 L417.82,198.49 L418.36,198.71 L418.88,198.95 L419.40,199.22 L419.91,199.51 L420.41,199.82 L420.90,200.16 L421.38,200.51 L421.85,200.88 L422.31,201.27 L422.76,201.68 L423.20,202.11 L423.63,202.55 L424.04,203.00 L424.44,203.48 L424.83,203.96 L425.21,204.46 L425.57,204.97 L425.92,205.49 L426.26,206.02 L426.58,206.57 L426.88,207.12 L427.17,207.68 L427.45,208.25 L427.71,208.82 L427.95,209.40 L428.18,209.99 L428.39,210.58 L428.59,211.18 L428.78,211.78 L428.95,212.38 L429.12,212.99 L429.27,213.61 L429.41,214.22 L429.54,214.84 L429.66,215.46 L429.77,216.08 L429.87,216.71 L429.97,217.33 L430.06,217.96 L430.14,218.58 L430.21,219.20 L430.28,219.83 L430.35,220.45 L430.41,221.07 L430.46,221.68 L430.51,222.30 L430.56,222.91 L430.61,223.52 L430.66,224.12 L430.70,224.72 L430.75,225.31 L430.79,225.90 L430.84,226.48 L430.89,227.06 L430.94,227.63 L430.99,228.19" stroke="#0000ff"/>
<path d="M86.19,228.10 L86.79,228.10 L87.38,228.09 L87.98,228.09 L88.58,228.09 L89.18,228.09 L89.77,228.09 L90.37,228.08 L90.97,228.08 L91.56,228.08 L92.16,228.08 L92.76,228.08 L93.36,228.07 L93.95,228.07 L94.55,228.07 L95.15,228.07 L95.74,228.07 L96.34,228.06 L96.94,228.06 L97.53,228.06 L98.13,228.06 L98.73,228.06 L99.32,228.05 L99.92,228.05 L100.52,228.05 L101.12,228.05 L101.71,228.05 L102.31,228.04 L102.91,228.04 L103.50,228.04 L104.10,228.04 L104.70,228.03 L105.29,228.03 L105.89,228.03 L106.49,228.03 L107.08,228.03 L107.68,228.02 L108.28,228.02 L108.87,228.02 L109.47,228.02 L110.07,228.02 L110.66,228.01 L111.26,228.01 L111.86,228.01 L112.45,228.01 L113.05,228.00 L113.65,228.00 L114.24,228.00 L114.84,228.00 L115.44,227.99 L116.03,227.99 L116.63,227.99 L117.23,227.99 L117.82,227.99 L118.42,227.98 L119.02,227.98 L119.61,227.98 L120.21,227.98 L120.80,227.97 L121.40,227.97 L122.00,227.97 L122.59,227.97 L123.19,227.96 L123.79,227.96 L124.38,227.96 L124.98,227.96 L125.58,227.95 L126.17,227.95 L126.77,227.95 L127.37,227.95 L127.96,227.94 L128.56,227.94 L129.15,227.94 L129.75,227.93 L130.35,227.93 L130.94,227.93 L131.54,227.93 L132.14,227.92 L132.73,227.92 L133.33,227.92 L133.93,227.91 L134.52,227.91 L135.12,227.91 L135.71,227.91 L136.31,227.90 L136.91,227.90 L137.50,227.90 L138.10,227.89 L138.70,227.89 L139.29,227.89 L139.89,227.88 L140.48,227.88 L141.08,227.88 L141.68,227.88 L142.27,227.87 L142.87,227.87 L143.47,227.87 L144.06,227.86 L144.66,227.86 L145.25,227.86 L145.85,227.85 L146.45,227.85 L147.04,227.85 L147.64,227.84 L148.23,227.84 L148.83,227.84 L149.43,227.83 L150.02,227.83 L150.62,227.83 L151.21,227.82 L151.81,227.82 L152.41,227.81 L153.00,227.81 L153.60,227.81 L154.19,227.80 L154.79,227.80 L155.39,227.80 L155.98,227.79 L156.58,227.79 L157.18,227.78 L157.77,227.78 L158.37,227.78 L158.96,227.77 L159.56,227.77 L160.15,227.76 L160.75,227.76 L161.35,227.76 L161.94,227.75 L162.54,227.75 L163.13,227.74 L163.73,227.74 L164.33,227.74 L164.92,227.73 L165.52,227.73 L166.11,227.72 L166.71,227.72 L167.31,227.71 L167.90,227.71 L168.50,227.71 L169.09,227.70 L169.69,227.70 L170.29,227.69 L170.88,227.69 L171.48,227.68 L172.07,227.68 L172.67,227.67 L173.27,227.67 L173.86,227.66 L174.46,227.66 L175.05,227.65 L175.65,227.65 L176.24,227.64 L176.84,227.64 L177.44,227.63 L178.03,227.63 L178.63,227.62 L179.22,227.62 L179.82,227.61 L180.42,227.61 L181.01,227.60 L181.61,227.60 L182.20,227.59 L182.80,227.59 L183.39,227.58 L183.99,227.58 L184.59,227.57 L185.18,227.57 L185.78,227.56 L186.37,227.56 L186.97,227.55 L187.56,227.54 L188.16,227.54 L188.76,227.53 L189.35,227.53 L189.95,227.52 L190.54,227.52 L191.14,227.51 L191.73,227.50 L192.33,227.50 L192.93,227.49 L193.52,227.49 L194.12,227.48 L194.71,227.47 L195.31,227.47 L195.91,227.46 L196.50,227.45 L197.10,227.45 L197.69,227.44 L198.29,227.44 L198.88,227.43 L199.48,227.42 L200.08,227.42 L200.67,227.41 L201.27,227.40 L201.86,227.40 L202.46,227.39 L203.05,227.38 L203.65,227.38 L204.25,227.37 L204.84,227.36 L205.44,227.35 L206.03,227.35 L206.63,227.34 L207.22,227.33 L207.82,227.33 L208.41,227.32 L209.01,227.31 L209.61,227.30 L210.20,227.30 L210.80,227.29 L211.39,227.28 L211.99,227.28 L212.58,227.27 L213.18,227.26 L213.78,227.25 L214.37,227.24 L214.97,227.24 L215.56,227.23 L216.16,227.22 L216.75,227.21 L217.35,227.21 L217.95,227.20 L218.54,227.19 L219.14,227.18 L219.73,227.17 L220.33,227.16 L220.92,227.16 L221.52,227.15 L222.12,227.14 L222.71,227.13 L223.31,227.12 L223.90,227.11 L224.50,227.11 L225.09,227.10 L225.69,227.09 L226.29,227.08 L226.88,227.07 L227.48,227.06 L228.07,227.05 L228.67,227.04 L229.26,227.04 L229.86,227.03 L230.46,227.02 L231.05,227.01 L231.65,227.00 L232.24,226.99 L232.84,226.98 L233.43,226.97 L234.03,226.96 L234.63,226.95 L235.22,226.94 L235.82,226.93 L236.41,226.92 L237.01,226.91 L237.60,226.90 L238.20,226.89 L238.80,226.88 L239.39,226.87 L239.99,226.86 L240.58,226.85 L241.18,226.84 L241.77,226.83 L242.37,226.82 L242.97,226.81 L243.56,226.80 L244.16,226.79 L244.75,226.78 L245.35,226.77 L245.94,226.76 L246.54,226.75 L247.14,226.74 L247.73,226.73 L248.33,226.71 L248.92,226.70 L249.52,226.69 L250.11,226.68 L250.71,226.67 L251.31,226.66 L251.90,226.65 L252.50,226.64 L253.09,226.62 L253.69,226.61 L254.28,226.60 L254.88,226.59 L255.48,226.58 L256.07,226.57 L256.67,226.55 L257.26,226.54 L257.86,226.53 L258.45,226.52 L259.05,226.51 L259.65,226.49 L260.24,226.48 L260.84,226.47 L261.43,226.46 L262.03,226.44 L262.63,226.43 L263.22,226.42 L263.82,226.41 L264.41,226.39 L265.01,226.38 L265.60,226.37 L266.20,226.36 L266.80,226.34 L267.39,226.33 L267.99,226.32 L268.58,226.30 L269.18,226.29 L269.78,226.28 L270.37,226.26 L270.97,226.25 L271.56,226.24 L272.16,226.22 L272.76,226.21 L273.35,226.19 L273.95,226.18 L274.54,226.17 L275.14,226.15 L275.74,226.14 L276.33,226.12 L276.93,226.11 L277.52,226.10 L278.12,226.08 L278.72,226.07 L279.31,226.05 L279.91,226.04 L280.50,226.02 L281.10,226.01 L281.69,225.99 L282.29,225.98 L282.89,225.96 L283.48,225.95 L284.08,225.93 L284.68,225.92 L285.27,225.90 L285.87,225.89 L286.46,225.87 L287.06,225.86 L287.66,225.84 L288.25,225.83 L288.85,225.81 L289.44,225.79 L290.04,225.78 L290.64,225.76 L291.23,225.75 L291.83,225.73 L292.42,225.71 L293.02,225.70 L293.62,225.68 L294.21,225.66 L294.81,225.65 L295.40,225.63 L296.00,225.61 L296.60,225.60 L297.19,225.58 L297.79,225.56 L298.39,225.55 L298.98,225.53 L299.58,225.51 L300.17,225.49 L300.77,225.48 L301.37,225.46 L301.96,225.44 L302.56,225.42 L303.16,225.41 L303.75,225.39 L304.35,225.37 L304.94,225.35 L305.54,225.33 L306.14,225.32 L306.73,225.30 L307.33,225.28 L307.93,225.26 L308.52,225.24 L309.12,225.22 L309.71,225.21 L310.31,225.19 L310.91,225.17 L311.50,225.15 L312.10,225.13 L312.70,225.11 L313.29,225.09 L313.89,225.07 L314.49,225.05 L315.08,225.03 L315.68,225.01 L316.28,224.99 L316.87,224.98 L317.47,224.96 L318.06,224.94 L318.66,224.92 L319.26,224.90 L319.85,224.88 L320.45,224.85 L321.05,224.83 L321.64,224.81 L322.24,224.79 L322.84,224.77 L323.43,224.75 L324.03,224.73 L324.63,224.71 L325.22,224.69 L325.82,224.67 L326.42,224.65 L327.01,224.63 L327.61,224.60 L328.21,224.58 L328.80,224.56 L329.40,224.54 L330.00,224.52 L330.59,224.50 L331.19,224.47 L331.79,224.45 L332.38,224.43 L332.98,224.41 L333.58,224.39 L334.17,224.36 L334.77,224.34 L335.37,224.32 L335.96,224.30 L336.56,224.27 L337.16,224.25 L337.75,224.23 L338.35,224.20 L338.95,224.18 L339.54,224.16 L340.14,224.13 L340.74,224.11 L341.34,224.09 L341.93,224.06 L342.53,224.04 L343.13,224.02 L343.72,223.99 L344.32,223.97 L344.92,223.94 L345.51,223.92 L346.11,223.90 L346.71,223.87 L347.31,223.85 L347.90,223.82 L348.50,223.80 L349.10,223.77 L349.69,223.75 L350.29,223.72 L350.89,223.70 L351.48,223.67 L352.08,223.65 L352.68,223.62 L353.28,223.60 L353.87,223.57 L354.47,223.54 L355.07,223.52 L355.66,223.49 L356.26,223.47 L356.86,223.44 L357.46,223.41 L358.05,223.39 L358.65,223.36 L359.25,223.33 L359.85,223.31 L360.44,223.28 L361.04,223.25 L361.64,223.23 L362.23,223.20 L362.83,223.17 L363.43,223.14 L364.03,223.12 L364.62,223.09 L365.22,223.06 L365.82,223.03 L366.42,223.00 L367.01,222.97 L367.61,222.94 L368.21,222.91 L368.80,222.88 L369.40,222.85 L370.00,222.82 L370.59,222.79 L371.19,222.75 L371.79,222.72 L372.38,222.68 L372.98,222.65 L373.57,222.61 L374.17,222.57 L374.76,222.54 L375.36,222.50 L375.95,222.46 L376.55,222.41 L377.14,222.37 L377.74,222.33 L378.33,222.28 L378.92,222.24 L379.52,222.19 L380.11,222.14 L380.70,222.09 L381.30,222.04 L381.89,221.99 L382.48,221.93 L383.07,221.88 L383.66,221.82 L384.25,221.76 L384.84,221.70 L385.43,221.64 L386.02,221.58 L386.61,221.51 L387.20,221.44 L387.79,221.37 L388.37,221.30 L388.96,221.23 L389.55,221.16 L390.14,221.08 L390.72,221.00 L391.31,220.92 L391.89,220.84 L392.48,220.75 L393.06,220.66 L393.64,220.58 L394.23,220.48 L394.81,220.39 L395.39,220.29 L395.97,220.20 L396.55,220.10 L397.13,219.99 L397.71,219.89 L398.29,219.78 L398.87,219.67 L399.44,219.55 L400.02,219.44 L400.60,219.32 L401.17,219.20 L401.75,219.07 L402.32,218.95 L402.89,218.82 L403.47,218.68 L404.04,218.55 L404.61,218.41 L405.18,218.26 L405.75,218.12 L406.32,217.97 L406.89,217.81 L407.46,217.65 L408.03,217.48 L408.60,217.31 L409.17,217.13 L409.75,216.95 L410.32,216.76 L410.89,216.56 L411.46,216.36 L412.03,216.15 L412.61,215.94 L413.18,215.71 L413.76,215.48 L414.33,215.24 L414.91,215.00 L415.49,214.74 L416.07,214.48 L416.65,214.21 L417.23,213.95 L417.81,213.69 L418.39,213.44 L418.97,213.21 L419.55,213.00 L420.12,212.81 L420.70,212.65 L421.27,212.53 L421.84,212.45 L422.40,212.40 L422.96,212.41 L423.51,212.47 L424.04,212.59 L424.56,212.77 L425.06,213.00 L425.53,213.29 L425.99,213.62 L426.41,214.00 L426.82,214.41 L427.19,214.86 L427.53,215.34 L427.84,215.84 L428.11,216.37 L428.36,216.92 L428.57,217.48 L428.76,218.07 L428.93,218.66 L429.08,219.27 L429.21,219.88 L429.32,220.50 L429.42,221.13 L429.52,221.76 L429.61,222.39 L429.69,223.01 L429.77,223.64 L429.85,224.25 L429.94,224.86 L430.03,225.45 L430.14,226.04 L430.25,226.61 L430.38,227.15 L430.53,227.68 L430.70,228.19" stroke="#ff8000"/>
<path d="M86.51,217.62 L86.80,216.89 L87.09,216.15 L87.37,215.41 L87.66,214.67 L87.94,213.92 L88.23,213.18 L88.51,212.44 L88.79,211.70 L89.06,210.95 L89.34,210.21 L89.45,209.92 M90.33,207.52 L90.44,207.23 L90.71,206.48 L90.98,205.74 L91.24,204.99 L91.51,204.24 L91.77,203.49 L92.04,202.74 L92.30,201.99 L92.56,201.24 L92.83,200.49 L93.08,199.75 M93.91,197.34 L94.12,196.74 L94.37,195.99 L94.62,195.23 L94.88,194.48 L95.13,193.73 L95.38,192.98 L95.63,192.22 L95.88,191.47 L96.13,190.71 L96.38,189.96 L96.53,189.51 M97.32,187.09 L97.37,186.94 L97.61,186.18 L97.86,185.43 L98.10,184.67 L98.35,183.91 L98.59,183.16 L98.83,182.40 L99.07,181.64 L99.31,180.89 L99.55,180.13 L99.80,179.37 L99.84,179.23 M100.61,176.80 L100.75,176.34 L100.99,175.58 L101.23,174.82 L101.47,174.06 L101.71,173.31 L101.95,172.55 L102.18,171.79 L102.42,171.03 L102.66,170.27 L102.90,169.51 L103.08,168.93 M103.84,166.50 L103.85,166.48 L104.08,165.72 L104.32,164.96 L104.56,164.20 L104.80,163.44 L105.03,162.68 L105.27,161.92 L105.51,161.16 L105.75,160.41 L105.99,159.65 L106.23,158.89 L106.31,158.62 M107.08,156.19 L107.18,155.86 L107.42,155.10 L107.66,154.34 L107.90,153.58 L108.15,152.83 L108.39,152.07 L108.63,151.31 L108.87,150.56 L109.12,149.80 L109.36,149.04 L109.59,148.33 M110.38,145.91 L110.59,145.26 L110.84,144.51 L111.08,143.75 L111.33,143.00 L111.58,142.24 L111.83,141.49 L112.08,140.74 L112.34,139.98 L112.59,139.23 L112.84,138.48 L112.98,138.08 M113.80,135.67 L113.87,135.47 L114.13,134.72 L114.39,133.97 L114.65,133.22 L114.91,132.47 L115.17,131.72 L115.44,130.97 L115.70,130.22 L115.97,129.47 L116.24,128.72 L116.50,127.98 L116.54,127.88 M117.41,125.49 L117.59,124.99 L117.87,124.25 L118.14,123.50 L118.42,122.76 L118.70,122.01 L118.98,121.27 L119.26,120.53 L119.55,119.79 L119.83,119.05 L120.12,118.31 L120.33,117.77 M121.26,115.40 L121.28,115.35 L121.57,114.61 L121.87,113.87 L122.17,113.14 L122.47,112.40 L122.77,111.67 L123.07,110.93 L123.38,110.20 L123.68,109.46 L123.99,108.73 L124.30,108.00 L124.40,107.77 M125.40,105.42 L125.55,105.08 L125.87,104.35 L126.19,103.62 L126.51,102.90 L126.83,102.17 L127.16,101.45 L127.48,100.72 L127.81,100.00 L128.14,99.28 L128.47,98.55 L128.77,97.89 M129.85,95.58 L130.14,94.96 L130.48,94.24 L130.82,93.53 L131.16,92.81 L131.50,92.10 L131.85,91.38 L132.19,90.67 L132.54,89.96 L132.89,89.25 L133.24,88.54 L133.43,88.15 M134.57,85.87 L134.65,85.72 L135.01,85.01 L135.37,84.31 L135.73,83.61 L136.09,82.91 L136.45,82.21 L136.82,81.51 L137.18,80.81 L137.55,80.11 L137.91,79.42 L138.28,78.73 L138.38,78.55 M139.59,76.30 L139.77,75.96 L140.15,75.27 L140.53,74.58 L140.91,73.90 L141.30,73.21 L141.68,72.52 L142.07,71.84 L142.46,71.16 L142.85,70.47 L143.25,69.79 L143.64,69.12 M144.94,66.93 L145.26,66.39 L145.68,65.72 L146.09,65.04 L146.51,64.36 L146.93,63.69 L147.36,63.01 L147.79,62.34 L148.22,61.67 L148.58,61.12 M149.99,59.00 L150.00,58.98 L150.45,58.31 L150.91,57.65 L151.37,56.99 L151.83,56.33 L152.30,55.67 L152.78,55.01 L153.26,54.36 L153.74,53.71 L153.96,53.42 M155.52,51.40 L155.73,51.15 L156.24,50.52 L156.75,49.89 L157.27,49.27 L157.79,48.65 L158.32,48.04 L158.86,47.44 L159.40,46.83 L159.94,46.24 L159.98,46.20 M161.75,44.36 L162.19,43.92 L162.76,43.36 L163.34,42.80 L163.93,42.25 L164.52,41.71 L165.12,41.18 L165.73,40.65 L166.34,40.13 L166.80,39.75 M168.81,38.18 L168.85,38.15 L169.50,37.68 L170.15,37.22 L170.80,36.77 L171.47,36.33 L172.13,35.90 L172.81,35.49 L173.49,35.09 L174.17,34.70 L174.58,34.49 M176.86,33.36 L176.98,33.30 L177.69,32.99 L178.41,32.69 L179.14,32.41 L179.87,32.14 L180.61,31.88 L181.35,31.64 L182.09,31.41 L182.84,31.20 L183.31,31.07 M185.79,30.49 L185.87,30.48 L186.64,30.33 L187.41,30.20 L188.18,30.07 L188.95,29.97 L189.73,29.87 L190.51,29.78 L191.29,29.71 L192.08,29.65 L192.58,29.62 M195.13,29.53 L195.22,29.53 L196.01,29.52 L196.81,29.53 L197.60,29.55 L198.39,29.58 L199.18,29.62 L199.97,29.67 L200.76,29.73 L201.55,29.80 L201.97,29.84 M204.50,30.15 L204.71,30.18 L205.50,30.30 L206.28,30.43 L207.06,30.57 L207.85,30.71 L208.62,30.87 L209.40,31.03 L210.17,31.20 L210.95,31.38 L211.72,31.57 L212.48,31.76 L212.77,31.84 M215.23,32.53 L215.52,32.62 L216.28,32.85 L217.03,33.09 L217.78,33.34 L218.53,33.59 L219.28,33.85 L220.02,34.12 L220.76,34.40 L221.51,34.68 L222.24,34.96 L222.98,35.25 L223.20,35.34 M225.55,36.32 L225.91,36.48 L226.64,36.80 L227.36,37.12 L228.09,37.45 L228.81,37.79 L229.53,38.13 L230.25,38.47 L230.97,38.82 L231.68,39.17 L232.40,39.53 L233.11,39.89 L233.19,39.93 M235.45,41.10 L235.96,41.37 L236.66,41.75 L237.37,42.13 L238.08,42.51 L238.78,42.90 L239.48,43.29 L240.19,43.68 L240.89,44.08 L241.59,44.48 L242.29,44.88 L242.84,45.20 M245.05,46.48 L245.08,46.50 L245.77,46.91 L246.47,47.32 L247.16,47.73 L247.85,48.14 L248.55,48.55 L249.24,48.97 L249.93,49.38 L250.62,49.80 L251.32,50.21 L252.01,50.63 L252.30,50.81 M254.49,52.12 L254.77,52.29 L255.46,52.71 L256.15,53.12 L256.84,53.53 L257.52,53.95 L258.21,54.36 L258.90,54.77 L259.59,55.18 L260.28,55.58 L260.97,55.99 L261.66,56.40 L261.75,56.45 M263.95,57.73 L264.42,58.01 L265.11,58.40 L265.80,58.80 L266.49,59.20 L267.18,59.59 L267.87,59.99 L268.57,60.38 L269.26,60.77 L269.95,61.16 L270.64,61.55 L271.30,61.91 M273.53,63.14 L274.11,63.46 L274.81,63.84 L275.51,64.21 L276.20,64.59 L276.90,64.96 L277.60,65.33 L278.30,65.70 L279.00,66.07 L279.70,66.44 L280.40,66.80 L280.99,67.11 M283.26,68.27 L283.91,68.60 L284.62,68.95 L285.33,69.30 L286.03,69.65 L286.74,70.00 L287.45,70.35 L288.16,70.69 L288.87,71.03 L289.59,71.37 L290.30,71.71 L290.86,71.97 M293.17,73.04 L293.88,73.36 L294.60,73.69 L295.32,74.01 L296.05,74.33 L296.77,74.65 L297.49,74.97 L298.22,75.28 L298.95,75.59 L299.07,75.65 M301.42,76.64 L301.86,76.82 L302.60,77.12 L303.33,77.42 L304.06,77.72 L304.80,78.02 L305.53,78.31 L306.27,78.60 L307.01,78.89 L307.40,79.04 M309.78,79.96 L309.97,80.03 L310.71,80.31 L311.45,80.59 L312.20,80.86 L312.94,81.14 L313.69,81.41 L314.43,81.68 L315.18,81.94 L315.84,82.18 M318.25,83.02 L318.93,83.25 L319.68,83.51 L320.44,83.77 L321.19,84.02 L321.94,84.27 L322.70,84.52 L323.45,84.76 L324.21,85.01 L324.37,85.06 M326.80,85.83 L327.24,85.97 L328.00,86.21 L328.77,86.44 L329.53,86.67 L330.29,86.90 L331.05,87.13 L331.81,87.36 L332.58,87.58 L332.97,87.70 M335.42,88.40 L335.64,88.47 L336.41,88.68 L337.17,88.90 L337.94,89.11 L338.71,89.32 L339.48,89.53 L340.25,89.74 L341.02,89.94 L341.64,90.11 M344.11,90.75 L344.87,90.95 L345.64,91.14 L346.42,91.33 L347.19,91.53 L347.96,91.72 L348.74,91.91 L349.51,92.09 L350.29,92.28 L350.37,92.30 M352.85,92.88 L353.39,93.01 L354.16,93.18 L354.94,93.36 L355.72,93.53 L356.49,93.71 L357.27,93.88 L358.05,94.05 L358.83,94.21 L359.15,94.28 M361.64,94.81 L361.94,94.87 L362.72,95.03 L363.50,95.19 L364.28,95.35 L365.06,95.50 L365.84,95.66 L366.62,95.81 L367.40,95.96 L367.97,96.07 M370.48,96.54 L370.52,96.55 L371.30,96.69 L372.08,96.83 L372.86,96.97 L373.65,97.10 L374.43,97.24 L375.21,97.37 L375.99,97.50 L376.78,97.63 L376.83,97.64 M379.35,98.04 L379.91,98.13 L380.69,98.25 L381.48,98.37 L382.26,98.49 L383.05,98.60 L383.83,98.71 L384.62,98.82 L385.40,98.93 L385.73,98.97 M388.26,99.30 L388.54,99.34 L389.33,99.44 L390.12,99.53 L390.90,99.63 L391.69,99.72 L392.48,99.81 L393.27,99.89 L394.06,99.98 L394.67,100.04 M397.21,100.29 L397.21,100.29 L398.00,100.36 L398.79,100.43 L399.58,100.50 L400.37,100.57 L401.16,100.63 L401.95,100.69 L402.74,100.75 L403.53,100.81 L403.63,100.81 M406.18,100.97 L406.70,101.00 L407.49,101.05 L408.28,101.09 L409.08,101.13 L409.87,101.16 L410.66,101.20 L411.46,101.23 L412.25,101.25 L412.62,101.27 M415.17,101.33 L415.43,101.34 L416.23,101.35 L417.02,101.37 L417.82,101.37 L418.62,101.38 L419.41,101.38 L420.21,101.38 L421.01,101.38 L421.62,101.38 M424.17,101.34 L424.20,101.34 L425.00,101.33 L425.80,101.31 L426.60,101.28 L427.40,101.26 L428.20,101.23 L429.00,101.20" stroke="#00ff00"/>
<path d="M86.32,226.75 L86.76,226.32 L87.21,225.89 L87.66,225.46 L88.12,225.04 L88.57,224.62 L89.02,224.20 L89.48,223.79 L89.94,223.38 L90.40,222.97 L90.86,222.56 L91.32,222.16 L91.79,221.76 L91.82,221.73 M93.77,220.09 L94.14,219.78 L94.61,219.40 L95.09,219.01 L95.57,218.63 L96.04,218.25 L96.53,217.87 L97.01,217.50 L97.49,217.12 L97.98,216.75 L98.46,216.38 L98.95,216.02 L99.44,215.65 L99.64,215.50 M101.71,214.00 L101.92,213.86 L102.41,213.50 L102.91,213.15 L103.42,212.80 L103.92,212.45 L104.42,212.10 L104.92,211.75 L105.43,211.41 L105.94,211.06 L106.44,210.72 L106.95,210.37 L107.46,210.03 L107.84,209.77 M109.95,208.35 L110.00,208.32 L110.51,207.97 L111.02,207.63 L111.53,207.29 L112.04,206.94 L112.55,206.60 L113.06,206.26 L113.57,205.91 L114.08,205.57 L114.59,205.23 L115.10,204.88 L115.61,204.54 L116.12,204.19 L116.13,204.18 M118.24,202.76 L118.67,202.47 L119.18,202.12 L119.69,201.78 L120.20,201.43 L120.71,201.09 L121.22,200.75 L121.73,200.40 L122.25,200.06 L122.76,199.71 L123.27,199.37 L123.78,199.02 L124.29,198.68 L124.42,198.59 M126.54,197.17 L126.85,196.95 L127.36,196.61 L127.88,196.27 L128.39,195.92 L128.90,195.58 L129.41,195.24 L129.93,194.89 L130.44,194.55 L130.95,194.21 L131.47,193.86 L131.98,193.52 L132.49,193.18 L132.73,193.02 M134.85,191.61 L135.06,191.47 L135.57,191.13 L136.09,190.79 L136.60,190.45 L137.12,190.11 L137.63,189.77 L138.15,189.43 L138.66,189.09 L139.18,188.75 L139.69,188.41 L140.21,188.08 L140.72,187.74 L141.07,187.51 M143.21,186.12 L143.30,186.06 L143.82,185.72 L144.33,185.39 L144.85,185.05 L145.37,184.72 L145.88,184.39 L146.40,184.05 L146.92,183.72 L147.44,183.39 L147.96,183.06 L148.47,182.73 L148.99,182.40 L149.48,182.09 M151.63,180.73 L152.11,180.43 L152.63,180.10 L153.15,179.78 L153.67,179.45 L154.19,179.13 L154.72,178.80 L155.24,178.48 L155.76,178.16 L156.28,177.84 L156.81,177.52 L157.33,177.20 L157.85,176.88 L157.97,176.81 M160.15,175.49 L160.48,175.29 L161.01,174.97 L161.53,174.66 L162.06,174.35 L162.59,174.03 L163.12,173.72 L163.64,173.41 L164.17,173.10 L164.70,172.79 L165.23,172.48 L165.76,172.17 L166.29,171.87 L166.57,171.71 M168.78,170.44 L168.95,170.34 L169.49,170.04 L170.02,169.74 L170.56,169.44 L171.09,169.14 L171.63,168.84 L172.16,168.54 L172.70,168.25 L173.24,167.95 L173.78,167.66 L174.31,167.37 L174.85,167.07 L175.30,166.83 M177.55,165.63 L177.56,165.63 L178.10,165.34 L178.64,165.06 L179.19,164.77 L179.73,164.49 L180.28,164.21 L180.82,163.93 L181.37,163.65 L181.92,163.37 L182.46,163.09 L183.01,162.81 L183.56,162.54 L184.11,162.27 L184.18,162.23 M186.47,161.11 L186.87,160.91 L187.42,160.65 L187.98,160.38 L188.54,160.12 L189.09,159.86 L189.65,159.59 L190.21,159.33 L190.76,159.07 L191.32,158.82 L191.88,158.56 L192.44,158.30 L193.01,158.05 L193.22,157.96 M195.55,156.92 L195.83,156.80 L196.39,156.56 L196.96,156.31 L197.53,156.07 L198.09,155.83 L198.66,155.59 L199.23,155.35 L199.80,155.11 L200.37,154.87 L200.95,154.64 L201.52,154.40 L202.09,154.17 L202.42,154.04 M204.79,153.10 L204.96,153.03 L205.54,152.81 L206.12,152.59 L206.70,152.36 L207.27,152.15 L207.85,151.93 L208.43,151.71 L209.01,151.50 L209.59,151.28 L210.18,151.07 L210.76,150.86 L211.34,150.65 L211.77,150.50 M214.17,149.66 L214.26,149.63 L214.84,149.43 L215.43,149.23 L216.02,149.03 L216.60,148.83 L217.19,148.64 L217.78,148.45 L218.37,148.26 L218.95,148.07 L219.54,147.88 L220.13,147.69 L220.72,147.51 L221.25,147.34 M223.69,146.60 L224.27,146.43 L224.86,146.26 L225.46,146.08 L226.05,145.91 L226.64,145.74 L227.24,145.58 L227.83,145.41 L228.43,145.25 L229.02,145.08 L229.62,144.92 L230.21,144.76 L230.81,144.61 L230.87,144.59 M233.34,143.96 L233.79,143.84 L234.39,143.69 L234.99,143.55 L235.58,143.40 L236.18,143.26 L236.78,143.12 L237.38,142.97 L237.98,142.84 L238.58,142.70 L239.18,142.56 L239.78,142.43 L240.38,142.29 L240.98,142.16 L241.58,142.03 L242.18,141.90 L242.78,141.77 L243.13,141.70 M245.63,141.19 L245.79,141.15 L246.39,141.04 L247.00,140.92 L247.60,140.80 L248.20,140.68 L248.81,140.57 L249.41,140.45 L250.01,140.34 L250.62,140.23 L251.22,140.12 L251.83,140.01 L252.43,139.90 L253.04,139.80 L253.64,139.69 L254.25,139.59 L254.85,139.49 L255.46,139.38 L255.51,139.37 M258.03,138.96 L258.49,138.89 L259.10,138.79 L259.70,138.70 L260.31,138.61 L260.92,138.51 L261.53,138.42 L262.13,138.33 L262.74,138.24 L263.35,138.15 L263.96,138.06 L264.57,137.98 L265.18,137.89 L265.78,137.80 L266.39,137.72 L267.00,137.64 L267.61,137.55 L267.97,137.51 M270.50,137.17 L270.66,137.15 L271.27,137.07 L271.88,137.00 L272.49,136.92 L273.10,136.84 L273.71,136.77 L274.32,136.69 L274.93,136.62 L275.54,136.55 L276.16,136.48 L276.77,136.40 L277.38,136.33 L277.99,136.26 L278.60,136.19 L279.21,136.12 L279.83,136.05 L280.44,135.99 L280.48,135.98 M283.02,135.70 L283.50,135.65 L284.11,135.59 L284.72,135.52 L285.34,135.46 L285.95,135.40 L286.56,135.33 L287.17,135.27 L287.79,135.21 L288.40,135.15 L289.01,135.08 L289.63,135.02 L290.24,134.96 L290.85,134.90 L291.47,134.84 L292.08,134.78 L292.69,134.72 L293.01,134.69 M295.55,134.45 L295.76,134.43 L296.37,134.37 L296.99,134.31 L297.60,134.25 L298.22,134.20 L298.83,134.14 L299.44,134.08 L300.06,134.02 L300.67,133.97 L301.29,133.91 L301.90,133.85 L302.51,133.80 L303.13,133.74 L303.74,133.69 L304.36,133.63 L304.97,133.57 L305.56,133.52 M308.10,133.29 L308.66,133.24 L309.27,133.18 L309.88,133.12 L310.50,133.07 L311.11,133.01 L311.73,132.95 L312.34,132.90 L312.95,132.84 L313.57,132.78 L314.18,132.73 L314.80,132.67 L315.41,132.61 L316.02,132.55 L316.64,132.49 L317.25,132.44 L317.87,132.38 L318.11,132.36 M320.64,132.11 L320.93,132.08 L321.55,132.02 L322.16,131.96 L322.77,131.90 L323.39,131.84 L324.00,131.78 L324.61,131.72 L325.23,131.66 L325.84,131.59 L326.45,131.53 L327.07,131.47 L327.68,131.40 L328.29,131.34 L328.90,131.27 L329.52,131.21 L330.13,131.14 L330.64,131.09 M333.18,130.81 L333.19,130.81 L333.80,130.74 L334.41,130.67 L335.03,130.60 L335.64,130.53 L336.25,130.46 L336.86,130.38 L337.47,130.31 L338.08,130.24 L338.69,130.16 L339.31,130.09 L339.92,130.01 L340.53,129.94 L341.14,129.86 L341.75,129.78 L342.36,129.71 L342.97,129.63 L343.15,129.60 M345.68,129.27 L346.02,129.22 L346.63,129.14 L347.24,129.06 L347.85,128.97 L348.46,128.89 L349.06,128.80 L349.67,128.71 L350.28,128.63 L350.89,128.54 L351.50,128.45 L352.11,128.36 L352.72,128.27 L353.32,128.18 L353.93,128.09 L354.54,128.00 L355.15,127.90 L355.63,127.83 M358.15,127.43 L358.19,127.43 L358.79,127.33 L359.40,127.23 L360.01,127.14 L360.61,127.04 L361.22,126.94 L361.83,126.84 L362.43,126.73 L363.04,126.63 L363.64,126.53 L364.25,126.43 L364.41,126.40 M366.92,125.96 L367.28,125.90 L367.88,125.79 L368.49,125.69 L369.09,125.58 L369.70,125.47 L370.30,125.36 L370.91,125.25 L371.51,125.14 L372.12,125.03 L372.72,124.91 L373.17,124.83 M375.68,124.35 L375.74,124.34 L376.34,124.23 L376.95,124.11 L377.55,123.99 L378.15,123.87 L378.76,123.75 L379.36,123.63 L379.96,123.51 L380.56,123.39 L381.17,123.27 L381.77,123.15 L381.91,123.12 M384.40,122.61 L384.78,122.53 L385.38,122.40 L385.98,122.27 L386.58,122.15 L387.19,122.02 L387.79,121.89 L388.39,121.76 L388.99,121.63 L389.59,121.50 L390.19,121.37 L390.61,121.28 M393.10,120.72 L393.19,120.70 L393.79,120.57 L394.39,120.43 L394.99,120.30 L395.59,120.16 L396.19,120.02 L396.79,119.88 L397.39,119.75 L397.99,119.61 L398.59,119.47 L399.19,119.33 L399.29,119.30 M401.77,118.71 L402.18,118.61 L402.78,118.47 L403.38,118.32 L403.98,118.18 L404.57,118.03 L405.17,117.89 L405.77,117.74 L406.37,117.59 L406.96,117.44 L407.56,117.29 L407.94,117.20 M410.41,116.57 L410.55,116.54 L411.14,116.39 L411.74,116.23 L412.34,116.08 L412.93,115.92 L413.53,115.77 L414.13,115.61 L414.72,115.46 L415.32,115.30 L415.91,115.14 L416.51,114.98 L416.56,114.97 M419.02,114.31 L419.48,114.18 L420.08,114.02 L420.67,113.86 L421.27,113.70 L421.86,113.54 L422.46,113.37 L423.05,113.21 L423.65,113.04 L424.24,112.88 L424.83,112.71 L425.14,112.62 M427.59,111.93 L427.80,111.87 L428.40,111.70 L428.99,111.53" stroke="#ff0000"/>
<path d="M86.21,227.30 L86.82,227.27 L87.43,227.24 L88.04,227.21 L88.65,227.18 L89.27,227.15 L89.88,227.11 L90.49,227.08 L91.10,227.05 L91.71,227.02 L92.33,226.98 L92.94,226.95 L93.55,226.92 L94.16,226.88 L94.78,226.85 L95.39,226.81 L96.00,226.78 L96.61,226.74 L97.22,226.70 L97.54,226.69 M100.09,226.53 L100.29,226.52 L100.90,226.48 L101.51,226.45 L102.12,226.41 L102.74,226.37 L103.35,226.33 L103.96,226.29 L104.57,226.25 L105.18,226.21 L105.80,226.17 L106.41,226.13 L107.02,226.09 L107.63,226.05 L108.25,226.01 L108.86,225.97 L109.47,225.92 L110.08,225.88 L110.70,225.84 L111.31,225.80 L111.41,225.79 M113.95,225.61 L114.37,225.58 L114.98,225.54 L115.60,225.49 L116.21,225.45 L116.82,225.40 L117.43,225.36 L118.05,225.31 L118.66,225.27 L119.27,225.22 L119.88,225.18 L120.50,225.13 L121.11,225.08 L121.72,225.04 L122.33,224.99 L122.95,224.94 L123.56,224.89 L124.17,224.85 L124.79,224.80 L125.27,224.76 M127.81,224.56 L127.85,224.55 L128.46,224.51 L129.07,224.46 L129.69,224.41 L130.30,224.36 L130.91,224.31 L131.52,224.26 L132.14,224.21 L132.75,224.15 L133.36,224.10 L133.98,224.05 L134.59,224.00 L135.20,223.95 L135.81,223.90 L136.43,223.85 L137.04,223.79 L137.65,223.74 L138.26,223.69 L138.88,223.64 L139.13,223.62 M141.67,223.40 L141.94,223.37 L142.55,223.32 L143.17,223.26 L143.78,223.21 L144.39,223.16 L145.00,223.10 L145.62,223.05 L146.23,222.99 L146.84,222.94 L147.45,222.88 L148.07,222.83 L148.68,222.77 L149.29,222.72 L149.90,222.66 L150.52,222.61 L151.13,222.55 L151.74,222.49 L152.35,222.44 L152.97,222.38 L152.97,222.38 M155.51,222.15 L156.03,222.10 L156.64,222.04 L157.26,221.99 L157.87,221.93 L158.48,221.87 L159.09,221.81 L159.71,221.76 L160.32,221.70 L160.93,221.64 L161.54,221.58 L162.16,221.53 L162.77,221.47 L163.38,221.41 L163.99,221.35 L164.61,221.29 L165.22,221.23 L165.83,221.18 L166.44,221.12 L166.81,221.08 M169.35,220.84 L169.51,220.82 L170.12,220.76 L170.73,220.71 L171.34,220.65 L171.96,220.59 L172.57,220.53 L173.18,220.47 L173.79,220.41 L174.40,220.35 L175.02,220.29 L175.63,220.23 L176.24,220.17 L176.85,220.11 L177.47,220.05 L178.08,219.99 L178.69,219.93 L179.30,219.87 L179.92,219.81 L180.53,219.75 L180.64,219.74 M183.18,219.49 L183.59,219.45 L184.20,219.39 L184.81,219.33 L185.42,219.27 L186.04,219.21 L186.65,219.15 L187.26,219.09 L187.87,219.03 L188.48,218.97 L189.10,218.91 L189.71,218.85 L190.32,218.79 L190.93,218.73 L191.54,218.67 L192.16,218.61 L192.77,218.54 L193.38,218.48 L193.99,218.42 L194.48,218.38 M197.02,218.13 L197.05,218.12 L197.66,218.06 L198.28,218.00 L198.89,217.94 L199.50,217.88 L200.11,217.82 L200.72,217.76 L201.33,217.70 L201.95,217.64 L202.56,217.58 L203.17,217.52 L203.78,217.46 L204.39,217.40 L205.00,217.34 L205.61,217.28 L206.23,217.22 L206.84,217.16 L207.45,217.10 L208.06,217.04 L208.31,217.01 M210.85,216.77 L211.12,216.74 L211.73,216.68 L212.34,216.62 L212.95,216.56 L213.56,216.50 L214.17,216.44 L214.78,216.38 L215.40,216.33 L216.01,216.27 L216.62,216.21 L217.23,216.15 L217.84,216.09 L218.45,216.03 L219.06,215.97 L219.67,215.91 L220.28,215.86 L220.89,215.80 L221.51,215.74 L222.12,215.68 L222.15,215.68 M224.68,215.44 L225.17,215.39 L225.78,215.33 L226.39,215.28 L227.00,215.22 L227.61,215.16 L228.22,215.10 L228.83,215.05 L229.44,214.99 L230.06,214.93 L230.67,214.88 L231.28,214.82 L231.89,214.76 L232.50,214.70 L233.11,214.65 L233.72,214.59 L234.33,214.53 L234.94,214.48 L235.55,214.42 L235.99,214.38 M238.52,214.14 L238.60,214.13 L239.21,214.08 L239.82,214.02 L240.43,213.96 L241.04,213.90 L241.65,213.85 L242.26,213.79 L242.87,213.73 L243.48,213.67 L244.09,213.62 L244.70,213.56 L245.31,213.50 L245.92,213.44 L246.53,213.39 L247.14,213.33 L247.75,213.27 L248.36,213.21 L248.97,213.15 L249.58,213.09 L249.82,213.07 M252.36,212.83 L252.63,212.80 L253.24,212.74 L253.85,212.68 L254.45,212.62 L255.06,212.56 L255.67,212.50 L256.28,212.44 L256.89,212.38 L257.50,212.32 L258.11,212.26 L258.72,212.20 L259.33,212.14 L259.94,212.08 L260.55,212.01 L261.16,211.95 L261.77,211.89 L262.38,211.83 L262.98,211.76 L263.59,211.70 L263.66,211.69 M266.19,211.43 L266.64,211.38 L267.25,211.32 L267.86,211.25 L268.47,211.19 L269.07,211.12 L269.68,211.06 L270.29,210.99 L270.90,210.93 L271.51,210.86 L272.12,210.79 L272.73,210.73 L273.34,210.66 L273.94,210.59 L274.55,210.52 L275.16,210.45 L275.77,210.38 L276.38,210.31 L276.99,210.25 L277.47,210.19 M280.01,209.89 L280.03,209.89 L280.64,209.82 L281.25,209.75 L281.85,209.67 L282.46,209.60 L283.07,209.53 L283.68,209.45 L284.29,209.38 L284.90,209.30 L285.50,209.23 L286.11,209.15 L286.72,209.08 L287.33,209.00 L287.94,208.92 L288.54,208.85 L289.15,208.77 L289.76,208.69 L290.37,208.61 L290.98,208.53 L291.27,208.49 M293.80,208.16 L294.02,208.13 L294.62,208.04 L295.23,207.96 L295.84,207.88 L296.45,207.79 L297.05,207.71 L297.66,207.62 L298.27,207.54 L298.88,207.45 L299.49,207.37 L300.09,207.28 L300.70,207.19 L301.31,207.10 L301.92,207.01 L302.52,206.92 L303.13,206.83 L303.74,206.74 L304.35,206.65 L304.95,206.56 L305.03,206.55 M307.55,206.16 L307.99,206.09 L308.60,205.99 L309.20,205.90 L309.81,205.80 L310.42,205.70 L311.03,205.61 L311.63,205.51 L312.24,205.41 L312.85,205.31 L313.45,205.21 L314.06,205.10 L314.67,205.00 L315.28,204.90 L315.88,204.79 L316.49,204.69 L317.10,204.58 L317.70,204.48 L318.31,204.37 L318.75,204.29 M321.26,203.84 L321.34,203.83 L321.95,203.72 L322.56,203.60 L323.16,203.49 L323.77,203.38 L324.38,203.26 L324.98,203.15 L325.59,203.03 L326.20,202.92 L326.80,202.80 L327.41,202.68 L328.02,202.56 L328.62,202.44 L329.23,202.32 L329.84,202.20 L330.44,202.08 L331.05,201.96 L331.66,201.83 L332.26,201.71 L332.40,201.68 M334.90,201.16 L335.29,201.07 L335.90,200.94 L336.51,200.81 L337.11,200.68 L337.72,200.55 L338.32,200.41 L338.93,200.28 L339.54,200.14 L340.14,200.01 L340.75,199.87 L341.35,199.73 L341.96,199.59 L342.57,199.45 L343.17,199.31 L343.78,199.17 L344.38,199.03 L344.99,198.88 L345.59,198.74 L345.96,198.65 M348.44,198.04 L348.62,198.00 L349.22,197.84 L349.82,197.69 L350.43,197.54 L351.03,197.38 L351.63,197.22 L352.23,197.07 L352.83,196.91 L353.44,196.74 L354.04,196.58 L354.64,196.42 L355.24,196.25 L355.84,196.09 L356.44,195.92 L357.03,195.75 L357.63,195.58 L358.23,195.41 L358.83,195.23 L359.39,195.07 M361.84,194.33 L362.39,194.16 L362.98,193.98 L363.58,193.79 L364.17,193.60 L364.76,193.41 L365.35,193.22 L365.93,193.03 L366.52,192.83 L367.11,192.64 L367.69,192.44 L367.97,192.34 M370.38,191.50 L370.61,191.42 L371.19,191.21 L371.77,191.00 L372.35,190.78 L372.93,190.57 L373.50,190.35 L374.08,190.13 L374.65,189.91 L375.23,189.69 L375.80,189.46 L376.37,189.23 L376.41,189.22 M378.77,188.25 L379.21,188.07 L379.77,187.83 L380.33,187.58 L380.89,187.34 L381.45,187.09 L382.01,186.84 L382.57,186.59 L383.13,186.34 L383.68,186.08 L384.24,185.82 L384.66,185.62 M386.95,184.51 L386.98,184.50 L387.53,184.22 L388.07,183.95 L388.61,183.67 L389.15,183.39 L389.69,183.11 L390.23,182.82 L390.76,182.53 L391.30,182.24 L391.83,181.95 L392.36,181.65 L392.65,181.49 M394.86,180.21 L394.99,180.14 L395.51,179.82 L396.03,179.51 L396.54,179.19 L397.06,178.87 L397.57,178.55 L398.08,178.22 L398.59,177.89 L399.10,177.56 L399.61,177.23 L400.11,176.89 L400.30,176.76 M402.40,175.30 L402.60,175.16 L403.09,174.80 L403.58,174.44 L404.07,174.08 L404.55,173.72 L405.04,173.35 L405.52,172.98 L406.00,172.61 L406.47,172.23 L406.95,171.85 L407.42,171.47 L407.52,171.39 M409.47,169.75 L409.74,169.51 L410.20,169.11 L410.65,168.71 L411.11,168.30 L411.56,167.89 L412.00,167.48 L412.45,167.07 L412.89,166.65 L413.33,166.22 L413.76,165.80 L414.20,165.37 L414.21,165.36 M415.99,163.54 L416.32,163.19 L416.74,162.74 L417.15,162.29 L417.56,161.84 L417.97,161.38 L418.37,160.93 L418.77,160.46 L419.17,160.00 L419.57,159.53 L419.96,159.06 L420.25,158.70 M421.83,156.70 L421.86,156.66 L422.24,156.17 L422.60,155.68 L422.97,155.18 L423.33,154.68 L423.69,154.18 L424.04,153.68 L424.39,153.17 L424.74,152.66 L425.08,152.14 L425.42,151.62 L425.55,151.43 M426.90,149.27 L427.06,148.99 L427.38,148.45 L427.69,147.91 L428.00,147.37 L428.31,146.82 L428.61,146.27 L428.91,145.72 L429.20,145.17 L429.49,144.61 L429.78,144.05 L429.99,143.61 M431.09,141.31 L431.14,141.19" stroke="#0000ff"/>
<path d="M86.21,227.98 L86.83,227.98 L87.44,227.98 L88.05,227.98 L88.66,227.98 L89.28,227.98 L89.89,227.98 L90.50,227.98 L91.11,227.98 L91.73,227.98 L92.34,227.98 L92.86,227.97 M95.41,227.97 L96.02,227.97 L96.63,227.97 L97.24,227.97 L97.86,227.96 L98.47,227.96 L99.08,227.96 L99.70,227.96 L100.31,227.96 L100.92,227.95 L101.54,227.95 L102.06,227.95 M104.61,227.94 L105.22,227.93 L105.83,227.93 L106.44,227.93 L107.06,227.92 L107.67,227.92 L108.28,227.92 L108.90,227.91 L109.51,227.91 L110.13,227.91 L110.74,227.90 L111.26,227.90 M113.81,227.88 L114.42,227.88 L115.04,227.87 L115.65,227.87 L116.27,227.86 L116.88,227.86 L117.49,227.85 L118.11,227.85 L118.72,227.84 L119.34,227.84 L119.95,227.83 L120.46,227.83 M123.01,227.80 L123.02,227.80 L123.64,227.80 L124.25,227.79 L124.87,227.78 L125.48,227.78 L126.10,227.77 L126.71,227.76 L127.32,227.76 L127.94,227.75 L128.55,227.74 L129.17,227.74 L129.66,227.73 M132.21,227.70 L132.24,227.70 L132.86,227.69 L133.47,227.69 L134.09,227.68 L134.70,227.67 L135.32,227.66 L135.93,227.65 L136.55,227.65 L137.16,227.64 L137.78,227.63 L138.39,227.62 L138.86,227.62 M141.41,227.58 L141.47,227.58 L142.08,227.57 L142.70,227.56 L143.31,227.55 L143.93,227.54 L144.54,227.54 L145.16,227.53 L145.77,227.52 L146.39,227.51 L147.00,227.50 L147.62,227.49 L148.06,227.48 M150.61,227.44 L150.70,227.44 L151.31,227.43 L151.93,227.42 L152.54,227.41 L153.16,227.40 L153.77,227.39 L154.39,227.38 L155.00,227.37 L155.62,227.36 L156.23,227.35 L156.85,227.34 L157.26,227.33 M159.81,227.29 L159.93,227.29 L160.54,227.27 L161.16,227.26 L161.77,227.25 L162.39,227.24 L163.01,227.23 L163.62,227.22 L164.24,227.21 L164.85,227.20 L165.47,227.18 L166.08,227.17 L166.46,227.17 M169.01,227.12 L169.16,227.11 L169.78,227.10 L170.39,227.09 L171.01,227.08 L171.63,227.07 L172.24,227.05 L172.86,227.04 L173.47,227.03 L174.09,227.02 L174.70,227.00 L175.32,226.99 L175.66,226.98 M178.21,226.93 L178.40,226.93 L179.01,226.92 L179.63,226.90 L180.25,226.89 L180.86,226.88 L181.48,226.86 L182.09,226.85 L182.71,226.84 L183.33,226.82 L183.94,226.81 L184.56,226.80 L184.85,226.79 M187.40,226.74 L187.64,226.73 L188.25,226.72 L188.87,226.70 L189.48,226.69 L190.10,226.68 L190.72,226.66 L191.33,226.65 L191.95,226.63 L192.56,226.62 L193.18,226.61 L193.79,226.59 L194.05,226.59 M196.60,226.53 L196.87,226.52 L197.49,226.51 L198.10,226.49 L198.72,226.48 L199.34,226.46 L199.95,226.45 L200.57,226.43 L201.18,226.42 L201.80,226.40 L202.41,226.39 L203.03,226.38 L203.25,226.37 M205.80,226.31 L206.11,226.30 L206.72,226.29 L207.34,226.27 L207.96,226.26 L208.57,226.24 L209.19,226.23 L209.80,226.21 L210.42,226.20 L211.03,226.18 L211.65,226.17 L212.27,226.15 L212.45,226.15 M215.00,226.08 L215.34,226.07 L215.96,226.06 L216.57,226.04 L217.19,226.03 L217.80,226.01 L218.42,226.00 L219.04,225.98 L219.65,225.96 L220.27,225.95 L220.88,225.93 L221.50,225.92 L221.64,225.91 M224.19,225.85 L224.57,225.84 L225.19,225.82 L225.80,225.81 L226.42,225.79 L227.03,225.77 L227.65,225.76 L228.27,225.74 L228.88,225.73 L229.50,225.71 L230.11,225.69 L230.73,225.68 L230.84,225.67 M233.39,225.61 L233.80,225.60 L234.42,225.58 L235.03,225.56 L235.65,225.55 L236.26,225.53 L236.88,225.52 L237.49,225.50 L238.11,225.48 L238.72,225.47 L239.34,225.45 L239.95,225.43 L240.04,225.43 M242.59,225.36 L243.02,225.35 L243.64,225.34 L244.25,225.32 L244.87,225.30 L245.48,225.29 L246.10,225.27 L246.71,225.25 L247.33,225.24 L247.94,225.22 L248.56,225.20 L249.17,225.19 L249.23,225.19 M251.78,225.12 L252.24,225.10 L252.86,225.09 L253.47,225.07 L254.08,225.05 L254.70,225.04 L255.31,225.02 L255.93,225.00 L256.54,224.99 L257.15,224.97 L257.77,224.95 L258.38,224.94 L258.43,224.94 M260.98,224.87 L261.45,224.85 L262.07,224.84 L262.68,224.82 L263.29,224.80 L263.91,224.79 L264.52,224.77 L265.13,224.75 L265.75,224.74 L266.36,224.72 L266.98,224.70 L267.59,224.69 L267.63,224.69 M270.18,224.62 L270.66,224.61 L271.27,224.59 L271.88,224.57 L272.50,224.56 L273.11,224.54 L273.72,224.52 L274.34,224.51 L274.95,224.49 L275.56,224.47 L276.17,224.46 L276.79,224.44 L276.82,224.44 M279.37,224.37 L279.85,224.36 L280.46,224.34 L281.08,224.32 L281.69,224.31 L282.30,224.29 L282.92,224.28 L283.53,224.26 L284.14,224.24 L284.75,224.23 L285.36,224.21 L285.98,224.19 L286.02,224.19 M288.57,224.12 L289.04,224.11 L289.65,224.10 L290.26,224.08 L290.87,224.06 L291.49,224.05 L292.10,224.03 L292.71,224.01 L293.32,224.00 L293.93,223.98 L294.55,223.97 L295.16,223.95 L295.22,223.95 M297.77,223.88 L298.22,223.87 L298.83,223.85 L299.44,223.84 L300.05,223.82 L300.66,223.80 L301.27,223.79 L301.88,223.77 L302.50,223.76 L303.11,223.74 L303.72,223.72 L304.33,223.70 L304.41,223.70 M306.96,223.63 L307.39,223.62 L308.00,223.60 L308.61,223.58 L309.22,223.57 L309.83,223.55 L310.44,223.53 L311.05,223.51 L311.67,223.49 L312.28,223.47 L312.89,223.45 L313.50,223.44 L313.61,223.43 M316.16,223.35 L316.56,223.34 L317.17,223.32 L317.78,223.29 L318.39,223.27 L319.01,223.25 L319.62,223.23 L320.23,223.21 L320.84,223.19 L321.45,223.16 L322.06,223.14 L322.68,223.12 L322.81,223.11 M325.35,223.01 L325.74,223.00 L326.35,222.97 L326.96,222.95 L327.58,222.92 L328.19,222.90 L328.80,222.87 L329.41,222.84 L330.03,222.82 L330.64,222.79 L331.25,222.76 L331.87,222.73 L332.00,222.73 M334.54,222.60 L334.93,222.59 L335.55,222.55 L336.16,222.52 L336.77,222.49 L337.39,222.46 L338.00,222.43 L338.62,222.39 L339.23,222.36 L339.84,222.33 L340.46,222.29 L341.07,222.26 L341.18,222.25 M343.73,222.10 L344.15,222.07 L344.76,222.03 L345.38,222.00 L345.99,221.96 L346.61,221.92 L347.23,221.88 L347.84,221.83 L348.46,221.79 L349.07,221.75 L349.69,221.71 L350.31,221.66 L350.37,221.66 M352.91,221.47 L353.39,221.44 L354.01,221.39 L354.63,221.34 L355.24,221.29 L355.86,221.25 L356.48,221.20 L357.10,221.15 L357.72,221.09 L358.34,221.04 L358.95,220.99 L359.54,220.94 M362.08,220.71 L362.67,220.66 L363.29,220.60 L363.91,220.54 L364.53,220.48 L365.15,220.42 L365.77,220.36 L366.39,220.30 L367.01,220.23 L367.63,220.17 L368.25,220.10 L368.69,220.05 M371.23,219.75 L371.35,219.74 L371.96,219.66 L372.58,219.58 L373.20,219.49 L373.82,219.41 L374.43,219.32 L375.05,219.23 L375.67,219.14 L376.28,219.05 L376.89,218.95 L377.51,218.85 L377.81,218.80 M380.32,218.36 L380.57,218.31 L381.18,218.20 L381.79,218.08 L382.40,217.95 L383.00,217.83 L383.61,217.70 L384.21,217.56 L384.82,217.42 L385.42,217.28 L386.02,217.14 L386.63,216.99 L386.81,216.94 M389.28,216.28 L389.61,216.19 L390.21,216.01 L390.80,215.84 L391.39,215.65 L391.98,215.47 L392.57,215.28 L393.16,215.08 L393.74,214.88 L394.33,214.68 L394.91,214.47 L395.49,214.25 L395.60,214.21 M397.97,213.27 L398.35,213.11 L398.92,212.87 L399.48,212.62 L400.04,212.37 L400.60,212.11 L401.16,211.85 L401.71,211.58 L402.26,211.31 L402.81,211.03 L403.35,210.74 L403.89,210.46 L403.97,210.41 M406.18,209.15 L406.53,208.93 L407.05,208.61 L407.56,208.29 L408.07,207.96 L408.58,207.62 L409.08,207.28 L409.58,206.93 L410.07,206.58 L410.56,206.22 L411.04,205.86 L411.52,205.49 L411.65,205.38 M413.62,203.75 L413.84,203.55 L414.29,203.14 L414.74,202.73 L415.17,202.32 L415.61,201.89 L416.03,201.47 L416.46,201.03 L416.87,200.59 L417.28,200.15 L417.69,199.69 L418.09,199.24 L418.28,199.02 M419.87,197.03 L419.99,196.87 L420.36,196.39 L420.72,195.89 L421.07,195.39 L421.41,194.89 L421.75,194.38 L422.09,193.87 L422.41,193.36 L422.73,192.84 L423.05,192.31 L423.36,191.78 L423.53,191.48 M424.73,189.23 L424.81,189.07 L425.08,188.52 L425.34,187.96 L425.60,187.40 L425.85,186.84 L426.09,186.27 L426.33,185.70 L426.56,185.13 L426.78,184.55 L427.00,183.97 L427.21,183.39 L427.31,183.10 M428.08,180.68 L428.16,180.43 L428.32,179.83 L428.49,179.23 L428.64,178.62 L428.79,178.02 L428.93,177.41 L429.06,176.80 L429.19,176.18 L429.30,175.57 L429.42,174.95 L429.52,174.33 L429.54,174.19 M429.88,171.67 L429.93,171.22" stroke="#ff8000"/>
</g>
<rect x="80.5" y="17.5" width="357.5" height="221.9" fill="none" stroke="#5a5a5a" stroke-width="1.1"/>
<path d="M84.30,239.4 v-4.4 M84.30,17.5 v4.4 M101.64,239.4 v-3.2 M101.64,17.5 v3.2 M118.98,239.4 v-3.2 M118.98,17.5 v3.2 M136.32,239.4 v-3.2 M136.32,17.5 v3.2 M153.66,239.4 v-4.4 M153.66,17.5 v4.4 M171.00,239.4 v-3.2 M171.00,17.5 v3.2 M188.34,239.4 v-3.2 M188.34,17.5 v3.2 M205.68,239.4 v-3.2 M205.68,17.5 v3.2 M223.02,239.4 v-4.4 M223.02,17.5 v4.4 M240.36,239.4 v-3.2 M240.36,17.5 v3.2 M257.70,239.4 v-3.2 M257.70,17.5 v3.2 M275.04,239.4 v-3.2 M275.04,17.5 v3.2 M292.38,239.4 v-4.4 M292.38,17.5 v4.4 M309.72,239.4 v-3.2 M309.72,17.5 v3.2 M327.06,239.4 v-3.2 M327.06,17.5 v3.2 M344.40,239.4 v-3.2 M344.40,17.5 v3.2 M361.74,239.4 v-4.4 M361.74,17.5 v4.4 M379.08,239.4 v-3.2 M379.08,17.5 v3.2 M396.42,239.4 v-3.2 M396.42,17.5 v3.2 M413.76,239.4 v-3.2 M413.76,17.5 v3.2 M431.10,239.4 v-4.4 M431.10,17.5 v4.4 M80.5,237.79 h3.2 M438.0,237.79 h-3.2 M80.5,228.30 h4.4 M438.0,228.30 h-4.4 M80.5,218.81 h3.2 M438.0,218.81 h-3.2 M80.5,209.32 h3.2 M438.0,209.32 h-3.2 M80.5,199.83 h3.2 M438.0,199.83 h-3.2 M80.5,190.34 h4.4 M438.0,190.34 h-4.4 M80.5,180.85 h3.2 M438.0,180.85 h-3.2 M80.5,171.36 h3.2 M438.0,171.36 h-3.2 M80.5,161.87 h3.2 M438.0,161.87 h-3.2 M80.5,152.38 h4.4 M438.0,152.38 h-4.4 M80.5,142.89 h3.2 M438.0,142.89 h-3.2 M80.5,133.40 h3.2 M438.0,133.40 h-3.2 M80.5,123.91 h3.2 M438.0,123.91 h-3.2 M80.5,114.42 h4.4 M438.0,114.42 h-4.4 M80.5,104.93 h3.2 M438.0,104.93 h-3.2 M80.5,95.44 h3.2 M438.0,95.44 h-3.2 M80.5,85.95 h3.2 M438.0,85.95 h-3.2 M80.5,76.46 h4.4 M438.0,76.46 h-4.4 M80.5,66.97 h3.2 M438.0,66.97 h-3.2 M80.5,57.48 h3.2 M438.0,57.48 h-3.2 M80.5,47.99 h3.2 M438.0,47.99 h-3.2 M80.5,38.50 h4.4 M438.0,38.50 h-4.4 M80.5,29.01 h3.2 M438.0,29.01 h-3.2 M80.5,19.52 h3.2 M438.0,19.52 h-3.2" stroke="#333" stroke-width="0.85" fill="none"/>
<g font-family="Liberation Sans, sans-serif" font-size="28.8" fill="#000" filter="url(#gs)">
<text x="84.30" y="270.6" text-anchor="middle">0.0</text>
<text x="153.66" y="270.6" text-anchor="middle">0.2</text>
<text x="223.02" y="270.6" text-anchor="middle">0.4</text>
<text x="292.38" y="270.6" text-anchor="middle">0.6</text>
<text x="361.74" y="270.6" text-anchor="middle">0.8</text>
<path transform="translate(411.08,270.60) scale(0.0288)" d="M102 -507 V-572 C204 -578 282 -608 303 -709 H366 V0 H278 V-507 Z"/>
<text x="427.10" y="270.6">.0</text>
<text x="76.6" y="237.70" text-anchor="end">0</text>
<text x="76.6" y="199.74" text-anchor="end">2</text>
<text x="76.6" y="161.78" text-anchor="end">4</text>
<text x="76.6" y="123.82" text-anchor="end">6</text>
<text x="76.6" y="85.86" text-anchor="end">8</text>
<path transform="translate(44.57,47.90) scale(0.0288)" d="M102 -507 V-572 C204 -578 282 -608 303 -709 H366 V0 H278 V-507 Z"/>
<text x="76.6" y="47.90" text-anchor="end">0</text>
<text x="259.3" y="314.8" text-anchor="middle">x</text>
<g transform="translate(28.7,0) rotate(-90)">
<text x="-220.10" y="0" font-size="28.8">d</text>
<text x="-202.07" y="0" font-size="28.8" font-style="italic">σ</text>
<text x="-183.65" y="0" font-size="28.8">/</text>
<text x="-175.50" y="0" font-size="28.8">d</text>
<text x="-158.90" y="0" font-size="28.8">x</text>
<text x="-136.20" y="-1.0" font-size="28.8">[</text>
<text x="-127.45" y="0" font-size="28.8">G</text>
<text x="-104.30" y="0" font-size="28.8">e</text>
<text x="-88.05" y="0" font-size="28.8">V</text>
<text x="-57.25" y="-12.1" font-size="21.6">2</text>
<text x="-44.64" y="-1.0" font-size="28.8">]</text>
</g>
<rect x="9.8" y="58" width="2.3" height="9.6" fill="#000"/>
</g>
<path d="M468,69.90 H513.5" stroke="#00ff00" stroke-width="1.9" fill="none"/>
<path d="M468,95.78 H513.5" stroke="#ff0000" stroke-width="1.9" fill="none"/>
<path d="M468,121.66 H513.5" stroke="#0000ff" stroke-width="1.9" fill="none"/>
<path d="M468,147.54 H513.5" stroke="#ff8000" stroke-width="1.9" fill="none"/>
<path d="M468,173.42 H513.5" stroke="#00ff00" stroke-width="1.9" stroke-dasharray="6.8 2.28" fill="none"/>
<path d="M468,199.30 H513.5" stroke="#ff0000" stroke-width="1.9" stroke-dasharray="6.8 2.28" fill="none"/>
<path d="M468,225.18 H513.5" stroke="#0000ff" stroke-width="1.9" stroke-dasharray="6.8 2.28" fill="none"/>
<path d="M468,251.06 H513.5" stroke="#ff8000" stroke-width="1.9" stroke-dasharray="6.8 2.28" fill="none"/>
<g font-family="Liberation Sans, sans-serif" font-size="14.6" fill="#000" filter="url(#gs)">
<text x="520.8" y="74.10">ETL:</text>
<text x="556.66" y="74.10" font-style="italic">m</text>
<text x="568.98" y="76.40" font-style="italic" font-size="9.8">A</text>
<text x="575.00" y="75.10" font-size="7" fill="#555">′</text>
<text x="577.00" y="74.10">=50 MeV</text>
<text x="520.8" y="99.98">ETL:</text>
<text x="556.66" y="99.98" font-style="italic">m</text>
<text x="568.98" y="102.28" font-style="italic" font-size="9.8">A</text>
<text x="575.00" y="100.98" font-size="7" fill="#555">′</text>
<text x="577.00" y="99.98">=100 MeV</text>
<text x="520.8" y="125.86">ETL:</text>
<text x="556.66" y="125.86" font-style="italic">m</text>
<text x="568.98" y="128.16" font-style="italic" font-size="9.8">A</text>
<text x="575.00" y="126.86" font-size="7" fill="#555">′</text>
<text x="577.00" y="125.86">=250 MeV</text>
<text x="520.8" y="151.74">ETL:</text>
<text x="556.66" y="151.74" font-style="italic">m</text>
<text x="568.98" y="154.04" font-style="italic" font-size="9.8">A</text>
<text x="575.00" y="152.74" font-size="7" fill="#555">′</text>
<text x="577.00" y="151.74">=500 MeV</text>
<text x="521.5" y="177.62">WW,</text>
<text x="557.36" y="177.62" font-style="italic">m</text>
<text x="569.68" y="179.92" font-style="italic" font-size="9.8">A</text>
<text x="575.70" y="178.62" font-size="7" fill="#555">′</text>
<text x="577.70" y="177.62">=50 MeV</text>
<text x="521.5" y="203.50">WW,</text>
<text x="557.36" y="203.50" font-style="italic">m</text>
<text x="569.68" y="205.80" font-style="italic" font-size="9.8">A</text>
<text x="575.70" y="204.50" font-size="7" fill="#555">′</text>
<text x="577.70" y="203.50">=100 MeV</text>
<text x="521.5" y="229.38">WW,</text>
<text x="557.36" y="229.38" font-style="italic">m</text>
<text x="569.68" y="231.68" font-style="italic" font-size="9.8">A</text>
<text x="575.70" y="230.38" font-size="7" fill="#555">′</text>
<text x="577.70" y="229.38">=250 MeV</text>
<text x="521.5" y="255.26">WW,</text>
<text x="557.36" y="255.26" font-style="italic">m</text>
<text x="569.68" y="257.56" font-style="italic" font-size="9.8">A</text>
<text x="575.70" y="256.26" font-size="7" fill="#555">′</text>
<text x="577.70" y="255.26">=500 MeV</text>
</g>
</svg>
</body></html>
